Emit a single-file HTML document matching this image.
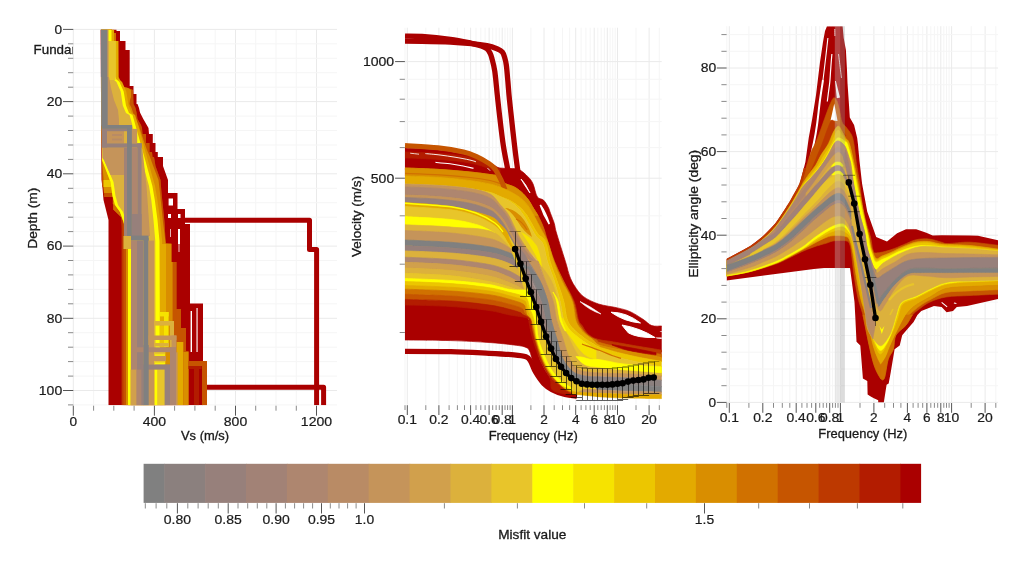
<!DOCTYPE html><html><head><meta charset="utf-8"><style>html,body{margin:0;padding:0;background:#fff}svg{display:block;will-change:transform}text{font-family:"Liberation Sans",sans-serif;fill:#1a1a1a}.t{stroke:#1a1a1a;stroke-width:0.3px}.k{stroke:#1a1a1a;stroke-width:0.2px}</style></head><body>
<svg width="1024" height="568" viewBox="0 0 1024 568">
<rect width="1024" height="568" fill="#fff"/>
<line x1="73.3" y1="29.4" x2="73.3" y2="405.2" stroke="#eaeaea" stroke-width="1"/>
<line x1="93.6" y1="29.4" x2="93.6" y2="405.2" stroke="#f5f5f5" stroke-width="1"/>
<line x1="113.8" y1="29.4" x2="113.8" y2="405.2" stroke="#f5f5f5" stroke-width="1"/>
<line x1="134.1" y1="29.4" x2="134.1" y2="405.2" stroke="#f5f5f5" stroke-width="1"/>
<line x1="154.4" y1="29.4" x2="154.4" y2="405.2" stroke="#eaeaea" stroke-width="1"/>
<line x1="174.6" y1="29.4" x2="174.6" y2="405.2" stroke="#f5f5f5" stroke-width="1"/>
<line x1="194.9" y1="29.4" x2="194.9" y2="405.2" stroke="#f5f5f5" stroke-width="1"/>
<line x1="215.2" y1="29.4" x2="215.2" y2="405.2" stroke="#f5f5f5" stroke-width="1"/>
<line x1="235.5" y1="29.4" x2="235.5" y2="405.2" stroke="#eaeaea" stroke-width="1"/>
<line x1="255.7" y1="29.4" x2="255.7" y2="405.2" stroke="#f5f5f5" stroke-width="1"/>
<line x1="276" y1="29.4" x2="276" y2="405.2" stroke="#f5f5f5" stroke-width="1"/>
<line x1="296.3" y1="29.4" x2="296.3" y2="405.2" stroke="#f5f5f5" stroke-width="1"/>
<line x1="316.5" y1="29.4" x2="316.5" y2="405.2" stroke="#eaeaea" stroke-width="1"/>
<line x1="73.3" y1="29.4" x2="337" y2="29.4" stroke="#eaeaea" stroke-width="1"/>
<line x1="73.3" y1="43.8" x2="337" y2="43.8" stroke="#f5f5f5" stroke-width="1"/>
<line x1="73.3" y1="58.3" x2="337" y2="58.3" stroke="#f5f5f5" stroke-width="1"/>
<line x1="73.3" y1="72.7" x2="337" y2="72.7" stroke="#f5f5f5" stroke-width="1"/>
<line x1="73.3" y1="87.2" x2="337" y2="87.2" stroke="#f5f5f5" stroke-width="1"/>
<line x1="73.3" y1="101.6" x2="337" y2="101.6" stroke="#eaeaea" stroke-width="1"/>
<line x1="73.3" y1="116.1" x2="337" y2="116.1" stroke="#f5f5f5" stroke-width="1"/>
<line x1="73.3" y1="130.5" x2="337" y2="130.5" stroke="#f5f5f5" stroke-width="1"/>
<line x1="73.3" y1="145" x2="337" y2="145" stroke="#f5f5f5" stroke-width="1"/>
<line x1="73.3" y1="159.4" x2="337" y2="159.4" stroke="#f5f5f5" stroke-width="1"/>
<line x1="73.3" y1="173.8" x2="337" y2="173.8" stroke="#eaeaea" stroke-width="1"/>
<line x1="73.3" y1="188.3" x2="337" y2="188.3" stroke="#f5f5f5" stroke-width="1"/>
<line x1="73.3" y1="202.7" x2="337" y2="202.7" stroke="#f5f5f5" stroke-width="1"/>
<line x1="73.3" y1="217.2" x2="337" y2="217.2" stroke="#f5f5f5" stroke-width="1"/>
<line x1="73.3" y1="231.6" x2="337" y2="231.6" stroke="#f5f5f5" stroke-width="1"/>
<line x1="73.3" y1="246.1" x2="337" y2="246.1" stroke="#eaeaea" stroke-width="1"/>
<line x1="73.3" y1="260.5" x2="337" y2="260.5" stroke="#f5f5f5" stroke-width="1"/>
<line x1="73.3" y1="274.9" x2="337" y2="274.9" stroke="#f5f5f5" stroke-width="1"/>
<line x1="73.3" y1="289.4" x2="337" y2="289.4" stroke="#f5f5f5" stroke-width="1"/>
<line x1="73.3" y1="303.8" x2="337" y2="303.8" stroke="#f5f5f5" stroke-width="1"/>
<line x1="73.3" y1="318.3" x2="337" y2="318.3" stroke="#eaeaea" stroke-width="1"/>
<line x1="73.3" y1="332.7" x2="337" y2="332.7" stroke="#f5f5f5" stroke-width="1"/>
<line x1="73.3" y1="347.2" x2="337" y2="347.2" stroke="#f5f5f5" stroke-width="1"/>
<line x1="73.3" y1="361.6" x2="337" y2="361.6" stroke="#f5f5f5" stroke-width="1"/>
<line x1="73.3" y1="376.1" x2="337" y2="376.1" stroke="#f5f5f5" stroke-width="1"/>
<line x1="73.3" y1="390.5" x2="337" y2="390.5" stroke="#eaeaea" stroke-width="1"/>
<line x1="73.3" y1="404.9" x2="337" y2="404.9" stroke="#f5f5f5" stroke-width="1"/>
<clipPath id="c1"><rect x="73.3" y="29.4" width="263.7" height="375.9"/></clipPath><g clip-path="url(#c1)">
<polyline points="178,220.3 309.5,220.3 309.5,249.4 316.6,249.4 316.6,405.3" fill="none" stroke="#aa0000" stroke-width="5" stroke-linejoin="round" />
<polyline points="205,387.3 323.6,387.3 323.6,405.3" fill="none" stroke="#aa0000" stroke-width="5" stroke-linejoin="round" />
<polygon points="100.6,29.4 101.5,180 102.5,188 103.5,200 108.5,220 108.5,405.3 203,405.3 203,303.5 190,303.5 190,224 185,224 185,209 177.5,209 177.5,193 168,193 168,180 163,166 163,157 157.8,157 157.8,152 155.5,152 155.5,143 152.8,143 152.8,134 149,134 148.5,128 143.3,119 140,112.5 139,108 137.5,104 136.5,104 136.5,94 133.5,94 133.5,86 129.7,86 129.7,50 125.5,50 125.5,41 120,41 120,31 116.5,31 116.5,29.4" fill="#aa0000" />
<rect x="168.6" y="198.5" width="4.4" height="7" fill="#fff"/>
<rect x="168" y="214" width="3" height="4" fill="#fff"/>
<rect x="178" y="214" width="2.5" height="4" fill="#fff"/>
<rect x="170.2" y="229" width="0.7" height="8" fill="#fff"/>
<rect x="178" y="229" width="2" height="15" fill="#fff"/>
<rect x="178.6" y="244" width="0.8" height="8" fill="#fff"/>
<rect x="190.6" y="311" width="1.4" height="41" fill="#fff"/>
<rect x="196.5" y="308" width="1.1" height="44" fill="#fff"/>
<polygon points="101,29.4 102,185 103,188 104,197 113.3,197 113.3,209.5 121,217 121.6,228.5 121.6,405.3 188.5,405.3 188.5,351 186,351 186,328 181,328 181,309 176.5,309 176.5,262 171.4,262 171.4,243.6 165.7,243.6 164.5,222 161.5,193 160.5,180 155.5,166 154,157 152.5,157 152,152 149.5,152 149.5,143 146,143 146,134 142.5,134 142,128 141,125 137.5,119 136.5,112.5 135.5,108 133.5,104 133,90 128,88 123.3,87 118.5,77 118.3,41 116,41 116,33 112,33 112,29.4" fill="#bd3900" />
<polygon points="101.1,29.4 102.2,185 103.2,188 104.2,193 104.2,197 113.3,197 113.3,204.5 113.3,209.5 121,217 123,222 123.5,230 123.5,405.3 188.5,405.3 188.5,351 186,351 186,328 181,328 181,309 176.5,309 176.5,262 171.4,262 171.4,243.6 165.7,243.6 164.5,222 161.5,193 160.5,180 155.5,166 154,157 152.5,157 152,152 149.5,152 149.5,143 146,143 146,134 142.5,134 142,128 141,125 137.5,119 136.5,112.5 135.5,108 133.5,104 133,90 128,88 123.3,87 118.5,77 118.3,41 116,41 116,33 112,33 112,29.4" fill="#c65500" />
<polygon points="101.2,29.4 102,160 103.5,178 104,188 104,193 112.8,193 112.8,204 115,206 119,211 122.5,217.6 125,228 126,240 126,405.3 172.6,405.3 172.6,262 171.4,262 171.4,244 165.7,243.6 163,222 160,193 158.5,180 153.2,166 150,157 147,150 143.5,140 140.5,131 138.5,125 135.5,119 133,112.5 131.5,108 129.5,104 130,100 131,97 131,90 128,88 123.3,87 118.5,77 118.3,41 111.8,41 111.8,29.4" fill="#d98e00" />
<rect x="103.5" y="180" width="9.3" height="7" fill="#ecc600"/>
<polygon points="113.3,204.5 115.5,205.5 118.5,210 121.3,217 113.3,209.5" fill="#d07100" />
<rect x="112" y="33" width="4" height="8" fill="#d07100"/>
<polygon points="101.3,29.4 102,160 110.5,182 112.5,196 115,205 120,212 123.5,222 126.8,235 128,249 128,405.3 162.8,405.3 162.1,241 160.1,220 157.4,200 155,186 147.8,160 139.8,131.5 136.6,120 135.1,115 131.6,113 128.6,105.4 126.3,91.5 122.1,82 118.6,79 118.1,77 118.1,41 114.1,41 114.1,29.4" fill="#e3aa00" />
<polygon points="101.3,29.4 102,160 110.5,182 112.5,196 115,205 120,212 123.5,222 126.8,235 128,249 128,405.3 160.2,405.3 159.5,241 157.5,220 154.8,200 152.4,186 145.2,160 137.2,131.5 134,120 132.5,115 129,113 126,105.4 123.7,91.5 119.5,82 116,79 115.5,77 115.5,41 111.5,41 111.5,29.4" fill="#ffff00" />
<polygon points="101.5,29.4 102.5,158 104,160 113.5,182 115.5,196 118,205 123,212 126.5,222 129.8,235 131,249 130.6,405.3 155.6,405.3 155.3,241 153.5,220 151.3,200 149,186 141.8,160 134,131.5 131,120 129.5,115 126,113 122.8,105.4 120.7,91.5 116.5,82 113,79 115.5,77 115.5,41 107.5,41 107.5,29.4" fill="#dcb13c" />
<rect x="108.5" y="41" width="7" height="39" fill="#e8c52a"/>
<polygon points="100.9,29.4 101.3,77 101.4,125 119,125 119,120 118,110 114,100 111,88 109,77 108.5,77 108.5,29.4" fill="#c5945a" />
<rect x="100.9" y="29.4" width="6.4" height="47.6" fill="#808080"/>
<rect x="101.3" y="77" width="6.4" height="49" fill="#808080"/>
<polygon points="102.3,147.5 102.6,158 104,160 110.5,175 124,175 124,147.5 124,147.5" fill="#c5945a" />
<rect x="107" y="131" width="17" height="12.3" fill="#c5945a"/>
<rect x="112" y="134" width="10" height="2" fill="#b98b65"/>
<rect x="112" y="138.5" width="10" height="2" fill="#b98b65"/>
<rect x="101.5" y="125" width="30.5" height="3.9" fill="#808080"/>
<rect x="101.8" y="128.9" width="25.2" height="2.3" fill="#97807b"/>
<rect x="101.8" y="128.9" width="5.2" height="18.6" fill="#97807b"/>
<rect x="101.8" y="143.3" width="39.9" height="4.3" fill="#97807b"/>
<rect x="137.2" y="143.3" width="4.6" height="92.7" fill="#97807b"/>
<rect x="131.9" y="128.9" width="5.3" height="14.4" fill="#c5945a"/>
<rect x="131.9" y="147.6" width="5.3" height="88.4" fill="#ae866f"/>
<rect x="124" y="147.5" width="3" height="88.5" fill="#a28276"/>
<rect x="127" y="125" width="4.9" height="113" fill="#808080"/>
<rect x="131.9" y="214" width="14.1" height="22" fill="#97807b"/>
<polygon points="141.8,147.6 141.8,236 150,236 147.5,200 146.5,186 142.5,150 141.8,147.6" fill="#c5945a" />
<rect x="127" y="235.6" width="21.6" height="5" fill="#808080"/>
<rect x="131" y="240.6" width="6" height="164.7" fill="#ae866f"/>
<rect x="137" y="240.6" width="6.6" height="164.7" fill="#97807b"/>
<rect x="143.6" y="238" width="5" height="167.3" fill="#808080"/>
<rect x="148.6" y="240.6" width="5.4" height="164.7" fill="#c5945a"/>
<rect x="123.5" y="236" width="7.5" height="13" fill="#dcb13c"/>
<rect x="160" y="244" width="6" height="161.3" fill="#e3aa00"/>
<rect x="176.2" y="309" width="4.8" height="19" fill="#c65500"/>
<rect x="178" y="328" width="8" height="24" fill="#c65500"/>
<rect x="176.5" y="342" width="6.8" height="63.3" fill="#e3aa00"/>
<rect x="183.3" y="352" width="5.2" height="53.3" fill="#d98e00"/>
<rect x="160" y="312" width="8.6" height="4.4" fill="#f6e300"/>
<rect x="164" y="312" width="4.6" height="35" fill="#f6e300"/>
<rect x="159.6" y="325.5" width="4.4" height="21.5" fill="#ecc600"/>
<rect x="154" y="321" width="20" height="4.6" fill="#dcb13c"/>
<rect x="170" y="321" width="4" height="26" fill="#dcb13c"/>
<rect x="148.6" y="335.5" width="27.8" height="4.5" fill="#c5945a"/>
<rect x="171.6" y="335.5" width="4.9" height="16.5" fill="#c5945a"/>
<rect x="154" y="343" width="15" height="3.5" fill="#dcb13c"/>
<rect x="154" y="352" width="11" height="53.3" fill="#e8c52a"/>
<rect x="155" y="369.5" width="2.2" height="35.8" fill="#ffff00"/>
<rect x="155" y="354.5" width="10" height="1.1" fill="#ffff00"/>
<rect x="155" y="362.6" width="10" height="1.2" fill="#ffff00"/>
<rect x="148.6" y="356" width="17.4" height="5" fill="#c5945a"/>
<rect x="132" y="347.3" width="44" height="4.9" fill="#ae866f"/>
<rect x="170" y="347.3" width="6" height="58" fill="#ae866f"/>
<rect x="176" y="352.2" width="1.6" height="53.1" fill="#c5945a"/>
<rect x="137" y="364.6" width="33" height="5" fill="#97807b"/>
<rect x="164.6" y="364.6" width="5.4" height="40.7" fill="#97807b"/>
<rect x="130.6" y="369.6" width="6" height="35.7" fill="#d1a04c"/>
<rect x="136.6" y="369.6" width="5" height="35.7" fill="#ae866f"/>
<rect x="141.6" y="369.6" width="2" height="35.7" fill="#97807b"/>
<rect x="143.6" y="345" width="5" height="60.3" fill="#808080"/>
<rect x="188.5" y="361" width="18.5" height="5" fill="#c65500"/>
<rect x="202" y="361" width="5" height="44.3" fill="#c65500"/>
<rect x="188.5" y="366" width="13" height="3" fill="#b31c00"/>
<rect x="194" y="366" width="5" height="39.3" fill="#b31c00"/>
</g>
<line x1="63" y1="29.4" x2="73.3" y2="29.4" stroke="#555555" stroke-width="1"/>
<text x="62.2" y="33.7" font-size="12" text-anchor="end" textLength="7.6" lengthAdjust="spacingAndGlyphs" class="k">0</text>
<line x1="68" y1="43.8" x2="73.3" y2="43.8" stroke="#8a8a8a" stroke-width="1"/>
<line x1="68" y1="58.3" x2="73.3" y2="58.3" stroke="#8a8a8a" stroke-width="1"/>
<line x1="68" y1="72.7" x2="73.3" y2="72.7" stroke="#8a8a8a" stroke-width="1"/>
<line x1="68" y1="87.2" x2="73.3" y2="87.2" stroke="#8a8a8a" stroke-width="1"/>
<line x1="63" y1="101.6" x2="73.3" y2="101.6" stroke="#555555" stroke-width="1"/>
<text x="62.2" y="105.9" font-size="12" text-anchor="end" textLength="15.5" lengthAdjust="spacingAndGlyphs" class="k">20</text>
<line x1="68" y1="116.1" x2="73.3" y2="116.1" stroke="#8a8a8a" stroke-width="1"/>
<line x1="68" y1="130.5" x2="73.3" y2="130.5" stroke="#8a8a8a" stroke-width="1"/>
<line x1="68" y1="145" x2="73.3" y2="145" stroke="#8a8a8a" stroke-width="1"/>
<line x1="68" y1="159.4" x2="73.3" y2="159.4" stroke="#8a8a8a" stroke-width="1"/>
<line x1="63" y1="173.8" x2="73.3" y2="173.8" stroke="#555555" stroke-width="1"/>
<text x="62.2" y="178.1" font-size="12" text-anchor="end" textLength="15.5" lengthAdjust="spacingAndGlyphs" class="k">40</text>
<line x1="68" y1="188.3" x2="73.3" y2="188.3" stroke="#8a8a8a" stroke-width="1"/>
<line x1="68" y1="202.7" x2="73.3" y2="202.7" stroke="#8a8a8a" stroke-width="1"/>
<line x1="68" y1="217.2" x2="73.3" y2="217.2" stroke="#8a8a8a" stroke-width="1"/>
<line x1="68" y1="231.6" x2="73.3" y2="231.6" stroke="#8a8a8a" stroke-width="1"/>
<line x1="63" y1="246.1" x2="73.3" y2="246.1" stroke="#555555" stroke-width="1"/>
<text x="62.2" y="250.4" font-size="12" text-anchor="end" textLength="15.5" lengthAdjust="spacingAndGlyphs" class="k">60</text>
<line x1="68" y1="260.5" x2="73.3" y2="260.5" stroke="#8a8a8a" stroke-width="1"/>
<line x1="68" y1="274.9" x2="73.3" y2="274.9" stroke="#8a8a8a" stroke-width="1"/>
<line x1="68" y1="289.4" x2="73.3" y2="289.4" stroke="#8a8a8a" stroke-width="1"/>
<line x1="68" y1="303.8" x2="73.3" y2="303.8" stroke="#8a8a8a" stroke-width="1"/>
<line x1="63" y1="318.3" x2="73.3" y2="318.3" stroke="#555555" stroke-width="1"/>
<text x="62.2" y="322.6" font-size="12" text-anchor="end" textLength="15.5" lengthAdjust="spacingAndGlyphs" class="k">80</text>
<line x1="68" y1="332.7" x2="73.3" y2="332.7" stroke="#8a8a8a" stroke-width="1"/>
<line x1="68" y1="347.2" x2="73.3" y2="347.2" stroke="#8a8a8a" stroke-width="1"/>
<line x1="68" y1="361.6" x2="73.3" y2="361.6" stroke="#8a8a8a" stroke-width="1"/>
<line x1="68" y1="376.1" x2="73.3" y2="376.1" stroke="#8a8a8a" stroke-width="1"/>
<line x1="63" y1="390.5" x2="73.3" y2="390.5" stroke="#555555" stroke-width="1"/>
<text x="62.2" y="394.8" font-size="12" text-anchor="end" textLength="23.4" lengthAdjust="spacingAndGlyphs" class="k">100</text>
<line x1="68" y1="404.9" x2="73.3" y2="404.9" stroke="#8a8a8a" stroke-width="1"/>
<line x1="73.3" y1="405.7" x2="73.3" y2="415.7" stroke="#555555" stroke-width="1"/>
<text x="73.3" y="425.8" font-size="12" text-anchor="middle" textLength="7.6" lengthAdjust="spacingAndGlyphs" class="k">0</text>
<line x1="93.6" y1="405.7" x2="93.6" y2="410.7" stroke="#8a8a8a" stroke-width="1"/>
<line x1="113.8" y1="405.7" x2="113.8" y2="410.7" stroke="#8a8a8a" stroke-width="1"/>
<line x1="134.1" y1="405.7" x2="134.1" y2="410.7" stroke="#8a8a8a" stroke-width="1"/>
<line x1="154.4" y1="405.7" x2="154.4" y2="415.7" stroke="#555555" stroke-width="1"/>
<text x="154.4" y="425.8" font-size="12" text-anchor="middle" textLength="23.4" lengthAdjust="spacingAndGlyphs" class="k">400</text>
<line x1="174.6" y1="405.7" x2="174.6" y2="410.7" stroke="#8a8a8a" stroke-width="1"/>
<line x1="194.9" y1="405.7" x2="194.9" y2="410.7" stroke="#8a8a8a" stroke-width="1"/>
<line x1="215.2" y1="405.7" x2="215.2" y2="410.7" stroke="#8a8a8a" stroke-width="1"/>
<line x1="235.5" y1="405.7" x2="235.5" y2="415.7" stroke="#555555" stroke-width="1"/>
<text x="235.5" y="425.8" font-size="12" text-anchor="middle" textLength="23.4" lengthAdjust="spacingAndGlyphs" class="k">800</text>
<line x1="255.7" y1="405.7" x2="255.7" y2="410.7" stroke="#8a8a8a" stroke-width="1"/>
<line x1="276" y1="405.7" x2="276" y2="410.7" stroke="#8a8a8a" stroke-width="1"/>
<line x1="296.3" y1="405.7" x2="296.3" y2="410.7" stroke="#8a8a8a" stroke-width="1"/>
<line x1="316.5" y1="405.7" x2="316.5" y2="415.7" stroke="#555555" stroke-width="1"/>
<text x="316.5" y="425.8" font-size="12" text-anchor="middle" textLength="31.3" lengthAdjust="spacingAndGlyphs" class="k">1200</text>
<text x="205" y="440.3" font-size="12.2" text-anchor="middle" textLength="48" lengthAdjust="spacingAndGlyphs" class="t">Vs (m/s)</text>
<g transform="translate(37.4,218.2) rotate(-90)"><text x="0" y="0" font-size="12.2" text-anchor="middle" textLength="61" lengthAdjust="spacingAndGlyphs" class="t">Depth (m)</text></g>
<clipPath id="cf"><rect x="0" y="40" width="72.8" height="20"/></clipPath>
<g clip-path="url(#cf)"><text x="33.6" y="54.2" font-size="12.2" text-anchor="start" textLength="78" lengthAdjust="spacingAndGlyphs" class="t">Fundamental</text></g>
<line x1="405" y1="27.7" x2="405" y2="404.7" stroke="#f5f5f5" stroke-width="1"/>
<line x1="407.3" y1="27.7" x2="407.3" y2="404.7" stroke="#eaeaea" stroke-width="1"/>
<line x1="425.8" y1="27.7" x2="425.8" y2="404.7" stroke="#f5f5f5" stroke-width="1"/>
<line x1="438.9" y1="27.7" x2="438.9" y2="404.7" stroke="#eaeaea" stroke-width="1"/>
<line x1="449.1" y1="27.7" x2="449.1" y2="404.7" stroke="#f5f5f5" stroke-width="1"/>
<line x1="457.4" y1="27.7" x2="457.4" y2="404.7" stroke="#f5f5f5" stroke-width="1"/>
<line x1="464.5" y1="27.7" x2="464.5" y2="404.7" stroke="#f5f5f5" stroke-width="1"/>
<line x1="470.6" y1="27.7" x2="470.6" y2="404.7" stroke="#eaeaea" stroke-width="1"/>
<line x1="476" y1="27.7" x2="476" y2="404.7" stroke="#f5f5f5" stroke-width="1"/>
<line x1="480.8" y1="27.7" x2="480.8" y2="404.7" stroke="#f5f5f5" stroke-width="1"/>
<line x1="485.1" y1="27.7" x2="485.1" y2="404.7" stroke="#f5f5f5" stroke-width="1"/>
<line x1="489.1" y1="27.7" x2="489.1" y2="404.7" stroke="#eaeaea" stroke-width="1"/>
<line x1="492.7" y1="27.7" x2="492.7" y2="404.7" stroke="#f5f5f5" stroke-width="1"/>
<line x1="496.1" y1="27.7" x2="496.1" y2="404.7" stroke="#f5f5f5" stroke-width="1"/>
<line x1="499.3" y1="27.7" x2="499.3" y2="404.7" stroke="#f5f5f5" stroke-width="1"/>
<line x1="502.2" y1="27.7" x2="502.2" y2="404.7" stroke="#eaeaea" stroke-width="1"/>
<line x1="505" y1="27.7" x2="505" y2="404.7" stroke="#f5f5f5" stroke-width="1"/>
<line x1="507.6" y1="27.7" x2="507.6" y2="404.7" stroke="#f5f5f5" stroke-width="1"/>
<line x1="510.1" y1="27.7" x2="510.1" y2="404.7" stroke="#f5f5f5" stroke-width="1"/>
<line x1="512.4" y1="27.7" x2="512.4" y2="404.7" stroke="#eaeaea" stroke-width="1"/>
<line x1="530.9" y1="27.7" x2="530.9" y2="404.7" stroke="#f5f5f5" stroke-width="1"/>
<line x1="544" y1="27.7" x2="544" y2="404.7" stroke="#eaeaea" stroke-width="1"/>
<line x1="554.2" y1="27.7" x2="554.2" y2="404.7" stroke="#f5f5f5" stroke-width="1"/>
<line x1="562.5" y1="27.7" x2="562.5" y2="404.7" stroke="#f5f5f5" stroke-width="1"/>
<line x1="569.6" y1="27.7" x2="569.6" y2="404.7" stroke="#f5f5f5" stroke-width="1"/>
<line x1="575.7" y1="27.7" x2="575.7" y2="404.7" stroke="#eaeaea" stroke-width="1"/>
<line x1="581.1" y1="27.7" x2="581.1" y2="404.7" stroke="#f5f5f5" stroke-width="1"/>
<line x1="585.9" y1="27.7" x2="585.9" y2="404.7" stroke="#f5f5f5" stroke-width="1"/>
<line x1="590.2" y1="27.7" x2="590.2" y2="404.7" stroke="#f5f5f5" stroke-width="1"/>
<line x1="594.2" y1="27.7" x2="594.2" y2="404.7" stroke="#eaeaea" stroke-width="1"/>
<line x1="597.8" y1="27.7" x2="597.8" y2="404.7" stroke="#f5f5f5" stroke-width="1"/>
<line x1="601.2" y1="27.7" x2="601.2" y2="404.7" stroke="#f5f5f5" stroke-width="1"/>
<line x1="604.4" y1="27.7" x2="604.4" y2="404.7" stroke="#f5f5f5" stroke-width="1"/>
<line x1="607.3" y1="27.7" x2="607.3" y2="404.7" stroke="#eaeaea" stroke-width="1"/>
<line x1="610.1" y1="27.7" x2="610.1" y2="404.7" stroke="#f5f5f5" stroke-width="1"/>
<line x1="612.7" y1="27.7" x2="612.7" y2="404.7" stroke="#f5f5f5" stroke-width="1"/>
<line x1="615.2" y1="27.7" x2="615.2" y2="404.7" stroke="#f5f5f5" stroke-width="1"/>
<line x1="617.5" y1="27.7" x2="617.5" y2="404.7" stroke="#eaeaea" stroke-width="1"/>
<line x1="636" y1="27.7" x2="636" y2="404.7" stroke="#f5f5f5" stroke-width="1"/>
<line x1="649.1" y1="27.7" x2="649.1" y2="404.7" stroke="#eaeaea" stroke-width="1"/>
<line x1="659.3" y1="27.7" x2="659.3" y2="404.7" stroke="#f5f5f5" stroke-width="1"/>
<line x1="404.9" y1="332.5" x2="661.7" y2="332.5" stroke="#f5f5f5" stroke-width="1"/>
<line x1="404.9" y1="264.2" x2="661.7" y2="264.2" stroke="#f5f5f5" stroke-width="1"/>
<line x1="404.9" y1="215.8" x2="661.7" y2="215.8" stroke="#f5f5f5" stroke-width="1"/>
<line x1="404.9" y1="178.2" x2="661.7" y2="178.2" stroke="#eaeaea" stroke-width="1"/>
<line x1="404.9" y1="147.6" x2="661.7" y2="147.6" stroke="#f5f5f5" stroke-width="1"/>
<line x1="404.9" y1="121.6" x2="661.7" y2="121.6" stroke="#f5f5f5" stroke-width="1"/>
<line x1="404.9" y1="99.2" x2="661.7" y2="99.2" stroke="#f5f5f5" stroke-width="1"/>
<line x1="404.9" y1="79.3" x2="661.7" y2="79.3" stroke="#f5f5f5" stroke-width="1"/>
<line x1="404.9" y1="61.6" x2="661.7" y2="61.6" stroke="#eaeaea" stroke-width="1"/>
<clipPath id="c2"><rect x="404.9" y="29.4" width="256.8" height="375.3"/></clipPath><g clip-path="url(#c2)">
<path d="M405,36.1C407.8,36.2 414.4,36 422,36.5C429.6,37 442.1,38.2 450.4,39.3C458.6,40.4 466.3,42.2 471.5,43.3C476.7,44.4 478.8,45.1 481.4,46C484,46.9 485.6,47.6 487,48.8C488.4,50 489.2,51.5 490,53C490.8,54.5 491,55 491.8,58C492.6,61 493.9,65.1 494.8,71.3C495.7,77.5 496.5,87.7 497.3,95C498.1,102.3 498.5,106.5 499.5,115C500.5,123.5 502,137.1 503.4,146C504.8,154.9 506.5,162.7 507.6,168.7C508.7,174.7 509.6,179.8 510,182" fill="none" stroke="#aa0000" stroke-width="5.3" stroke-linecap="butt" stroke-linejoin="round" />
<path d="M405,41.1C407.8,41.1 414.4,41.1 422,41.3C429.6,41.4 442.1,41.6 450.4,42C458.6,42.4 465.4,43 471.5,43.6C477.6,44.2 482.8,44.9 487,45.7C491.2,46.6 494.4,47.7 497,48.7C499.6,49.8 501,50.5 502.3,52C503.6,53.5 504.1,55.8 504.8,58C505.5,60.2 505.8,61.6 506.3,65C506.8,68.4 507.2,73.4 507.6,78.4C508.1,83.4 508.5,89.4 509,95C509.5,100.6 509.9,103.5 510.8,112C511.7,120.5 513.5,136.6 514.6,146C515.7,155.4 516.7,162.7 517.5,168.7C518.3,174.7 519.2,179.8 519.5,182" fill="none" stroke="#aa0000" stroke-width="5.3" stroke-linecap="butt" stroke-linejoin="round" />
<path d="M405,148C410.5,148.3 428.2,149 438,150C447.8,151 457.2,152.7 463.5,154C469.8,155.3 471.8,156.2 476,158C480.2,159.8 485,163.3 489,165C493,166.7 496.5,167.4 500,168C503.5,168.6 506.8,168.2 510,168.5C513.2,168.8 516,168.1 519,169.5C522,170.9 525.9,174.6 528.2,177C530.6,179.4 531.6,180.8 533.1,184.1C534.6,187.4 535.5,194.1 537.3,196.8C539.1,199.5 541.8,198.4 543.7,200.3C545.6,202.2 547.5,205.8 548.6,208C549.7,210.2 549.5,210.7 550.5,213.3C551.5,215.9 553.3,220.4 554.3,223.5C555.2,226.6 554.9,227.5 556.2,232C557.5,236.5 560.2,245 561.9,250.4C563.6,255.8 565,260.2 566.3,264.4C567.6,268.6 568.1,272.2 569.5,275.8C570.9,279.4 572.3,282.6 574.6,286C576.9,289.4 579.2,293.4 583.2,296.4C587.2,299.4 592.8,302.1 598.5,304C604.2,305.9 612.2,306.6 617.5,307.9C622.8,309.2 626,309.8 630.2,311.7C634.5,313.6 639.4,317 643,319.3C646.6,321.6 648.6,324.5 651.8,325.6C654.9,326.7 660.2,325.9 661.9,326L661.9,352C657.7,351.3 645,349.5 636.5,348C628,346.5 619.6,344.7 611,343C602.4,341.3 591,342.7 585,338C579,333.3 579.2,324.7 575,315C570.8,305.3 565,292.5 560,280C555,267.5 550,250.8 545,240C540,229.2 537.5,223.3 530,215C522.5,206.7 520.8,197.5 500,190C479.2,182.5 420.8,173.3 405,170Z" fill="#aa0000" stroke="#aa0000" stroke-width="0.7" />
<path d="M521,179 Q526,184 530,193 Q525,186 521,179Z" fill="#fff" stroke="#fff" stroke-width="0.8"/>
<path d="M540.3,205 Q546,213 549.3,224 Q543.5,215 540.3,205Z" fill="#fff" stroke="#fff" stroke-width="1.6"/>
<path d="M580,301.5 Q590,306 601,314 Q589,310 580,301.5Z" fill="#fff" stroke="#fff" stroke-width="0.6"/>
<path d="M611,312.2 Q626,312 640.5,323 Q624,321.5 611,312.2Z" fill="#fff" stroke="#fff" stroke-width="1"/>
<path d="M622,325 Q640,328 655,337.5 Q638,338 628.5,333 Q625,329 622,325Z" fill="#fff" stroke="#fff" stroke-width="1"/>
<path d="M655,337.5 L662,337.6 L662,339 L657,338.6Z" fill="#fff"/>
<path d="M659.5,331.2 L662,331 L662,332.2Z" fill="#fff"/>
<path d="M405,300C415.8,300.3 454.2,301.2 470,302C485.8,302.8 491.7,303.8 500,305C508.3,306.2 515.5,307.8 520,309C524.5,310.2 525.2,309.8 527,312C528.8,314.2 529.7,317.3 531,322C532.3,326.7 533.5,333.7 535,340C536.5,346.3 537.2,353.3 540,360C542.8,366.7 547.8,375.2 552,380C556.2,384.8 561,386.8 565,389C569,391.2 574.2,392.3 576,393L576,395.8C574,395.4 568,394.7 564,393.3C560,391.9 555.4,389.6 552,387.6C548.6,385.6 546.4,384.4 543.6,381.2C540.8,378 537.5,373.5 535.2,368.6C532.9,363.7 531.5,355.5 530,352C528.5,348.5 528.7,348.6 526,347.4C523.3,346.2 520.2,345.8 514,345C507.8,344.2 499.5,343.2 489,342.5C478.5,341.8 464.8,341 450.8,340.6C436.8,340.2 412.6,340.1 405,340Z" fill="#aa0000" stroke="#aa0000" stroke-width="0.7" />
<path d="M405,351.4C412.6,351.4 436.8,351.4 450.8,351.7C464.8,352 478.5,352.8 489,353.3C499.5,353.8 507.8,354.2 514,354.8C520.2,355.4 523.2,355.8 526,356.8C528.8,357.8 528.9,358.5 530.5,361C532.1,363.5 533.3,368.3 535.5,372C537.7,375.7 540.9,380.5 543.6,383.4C546.4,386.3 548.4,387.7 552,389.6C555.6,391.5 560.8,393.5 565,394.6C569.2,395.7 575,396 577,396.3" fill="none" stroke="#aa0000" stroke-width="5.2" stroke-linecap="butt" stroke-linejoin="round" />
<path d="M405,152C410.8,152.2 429.2,152.7 440,153.5C450.8,154.3 461.7,155.4 470,157C478.3,158.6 485,161 490,163C495,165 498.3,168 500,169L500,175C498.3,174 495,171 490,169C485,167 478.3,164.6 470,163C461.7,161.4 450.8,160.3 440,159.5C429.2,158.7 410.8,158.2 405,158Z" fill="#b31c00" stroke="#b31c00" stroke-width="0.7" />
<path d="M405,168C410.8,168.2 429.2,168.8 440,169.5C450.8,170.2 461.7,171.2 470,172C478.3,172.8 485,173.8 490,174.5C495,175.2 497.8,175.1 500,176.5C502.2,177.9 501.2,181 503.5,182.7C505.8,184.4 511.1,185.4 514,186.9C516.9,188.4 518.7,189.7 521.1,191.8C523.5,193.9 526.3,197.1 528.2,199.6C530.1,202.1 530.8,203.9 532.4,206.6C534,209.3 536.1,212 538,215.6C539.9,219.2 542.2,224.1 543.7,228.2C545.2,232.3 545.5,234.5 547.3,240C549.1,245.5 551.7,254.4 554.3,261.1C556.9,267.8 559.7,273.4 563,280C566.3,286.6 571.4,294.3 574,301C576.6,307.7 577.1,315.9 578.5,320C579.9,324.1 580.8,323.5 582.1,325.5C583.4,327.5 584.6,330.2 586.3,332.1C587.9,334 589.7,335.7 592,337C594.3,338.3 596.8,339.1 600,339.8C603.2,340.6 604.9,340.5 611,341.5C617.1,342.5 628,344.6 636.5,346C645,347.4 657.7,349.5 661.9,350.2L661.9,357.7C658.2,357.1 647,355.3 640,354C633,352.7 626.7,351.4 620,350C613.3,348.6 604.5,347.3 600,345.5C595.5,343.7 595,341.1 592.7,339.3C590.4,337.5 588.1,336.4 586,334.5C583.9,332.6 581.7,330.4 580,328C578.3,325.6 576.9,324.5 575.6,320C574.3,315.5 574.5,307.7 572.1,301C569.8,294.3 564.6,286.7 561.5,280C558.4,273.3 556,267.5 553.6,261C551.2,254.5 549.4,246.3 547.3,241C545.2,235.7 543.2,233.2 541,229C538.8,224.8 536.2,219.6 534,215.6C531.8,211.6 529.8,208 527.5,205C525.2,202 522.9,199.8 520,197.5C517.1,195.2 513.3,193.2 510,191.5C506.7,189.8 503.3,188.2 500,187C496.7,185.8 495,185.1 490,184C485,182.9 478.3,181.6 470,180.5C461.7,179.4 450.8,178.2 440,177.5C429.2,176.8 410.8,176.2 405,176Z" fill="#bd3900" stroke="#bd3900" stroke-width="0.7" />
<path d="M405,168C410.8,168.2 429.2,168.8 440,169.5C450.8,170.2 461.7,171.2 470,172C478.3,172.8 485,173.8 490,174.5C495,175.2 497.8,175.1 500,176.5C502.2,177.9 501.2,181 503.5,182.7C505.8,184.4 511.1,185.4 514,186.9C516.9,188.4 518.7,189.7 521.1,191.8C523.5,193.9 526.3,197.1 528.2,199.6C530.1,202.1 530.8,203.9 532.4,206.6C534,209.3 536.1,212 538,215.6C539.9,219.2 542.2,224.1 543.7,228.2C545.2,232.3 545.5,234.5 547.3,240C549.1,245.5 551.7,254.4 554.3,261.1C556.9,267.8 559.9,273.4 563,280C566.1,286.6 570.6,294.3 573,301C575.4,307.7 576.2,315.7 577.5,320C578.8,324.3 579.6,324.8 581,327C582.4,329.2 584,331.5 585.8,333.3C587.5,335.1 589.6,336.4 591.5,337.6C593.4,338.8 595.6,339.5 597,340.3C598.4,341.1 596.2,341.4 600,342.6C603.8,343.8 613.3,346.1 620,347.5C626.7,348.9 633,349.8 640,351C647,352.2 658.2,353.9 661.9,354.5L661.9,357.7C658.2,357.1 647,355.3 640,354C633,352.7 626.7,351.4 620,350C613.3,348.6 604.5,347.3 600,345.5C595.5,343.7 595,341.1 592.7,339.3C590.4,337.5 588.1,336.4 586,334.5C583.9,332.6 581.7,330.4 580,328C578.3,325.6 576.9,324.5 575.6,320C574.3,315.5 574.5,307.7 572.1,301C569.8,294.3 564.6,286.7 561.5,280C558.4,273.3 556,267.5 553.6,261C551.2,254.5 549.4,246.3 547.3,241C545.2,235.7 543.2,233.2 541,229C538.8,224.8 536.2,219.6 534,215.6C531.8,211.6 529.8,208 527.5,205C525.2,202 522.9,199.8 520,197.5C517.1,195.2 513.3,193.2 510,191.5C506.7,189.8 503.3,188.2 500,187C496.7,185.8 495,185.1 490,184C485,182.9 478.3,181.6 470,180.5C461.7,179.4 450.8,178.2 440,177.5C429.2,176.8 410.8,176.2 405,176Z" fill="#d07100" stroke="#d07100" stroke-width="0.7" />
<path d="M612,344.5C614.2,344.9 620.3,346 625,346.8C629.7,347.6 634.8,348.5 640,349.5C645.2,350.5 653.3,352.2 656,352.8L656,354.8C653.3,354.4 645.2,353.4 640,352.5C634.8,351.6 629.7,350.8 625,349.5C620.3,348.2 614.2,345.8 612,345Z" fill="#aa0000" stroke="#aa0000" stroke-width="0.7" />
<path d="M405,168C410.8,168.2 429.2,168.8 440,169.5C450.8,170.2 461.7,171.2 470,172C478.3,172.8 485,173.8 490,174.5C495,175.2 497.8,175.1 500,176.5C502.2,177.9 501.2,181 503.5,182.7C505.8,184.4 511.1,185.4 514,186.9C516.9,188.4 518.7,189.7 521.1,191.8C523.5,193.9 526.3,197.1 528.2,199.6C530.1,202.1 530.8,203.9 532.4,206.6C534,209.3 537.1,214.1 538,215.6L534,215.6C532.9,213.8 529.8,208 527.5,205C525.2,202 522.9,199.8 520,197.5C517.1,195.2 513.3,193.2 510,191.5C506.7,189.8 503.3,188.2 500,187C496.7,185.8 495,185.1 490,184C485,182.9 478.3,181.6 470,180.5C461.7,179.4 450.8,178.2 440,177.5C429.2,176.8 410.8,176.2 405,176Z" fill="#d98e00" stroke="#d98e00" stroke-width="0.7" />
<path d="M405,173.4C410.8,173.6 429.2,174.1 440,174.8C450.8,175.5 461.7,176.6 470,177.5C478.3,178.4 485,179.5 490,180.5C495,181.5 498.3,183 500,183.5" fill="none" stroke="#d07100" stroke-width="1.2" stroke-linecap="butt" stroke-linejoin="round" />
<path d="M410.2,153.2C411.7,153.4 417.5,154 419,154.2" fill="none" stroke="#fff" stroke-width="0.8" stroke-linecap="butt" stroke-linejoin="round" />
<path d="M425.4,153.6C427.8,153.8 435.1,154.4 440,155C444.9,155.6 450,156.4 455,157.2C460,158 466.3,159.2 469.8,160C473.3,160.8 475,161.5 476,161.8" fill="none" stroke="#fff" stroke-width="0.9" stroke-linecap="butt" stroke-linejoin="round" />
<path d="M435.5,162.4C437.9,162.6 445.6,163.2 450,163.8C454.4,164.4 458.1,165.1 462,165.8C465.9,166.6 471.7,167.9 473.6,168.3" fill="none" stroke="#fff" stroke-width="1.1" stroke-linecap="butt" stroke-linejoin="round" />
<path d="M487.6,168.2C488,168.6 489.6,170.2 490,170.6" fill="none" stroke="#fff" stroke-width="1" stroke-linecap="butt" stroke-linejoin="round" />
<path d="M405,145.5C410.5,145.9 428.2,146.7 438,147.8C447.8,148.9 457.2,150.6 463.5,152C469.8,153.4 471.8,154.4 476,156.3C480.2,158.2 485.8,161.4 489,163.5C492.2,165.6 492.9,166.1 495,169C497.1,171.9 499.8,177.5 501.5,181C503.2,184.5 504.4,188.5 505,190" fill="none" stroke="#c65500" stroke-width="5" stroke-linecap="butt" stroke-linejoin="round" />
<path d="M405,176C410.8,176.2 429.2,176.8 440,177.5C450.8,178.2 461.7,179.4 470,180.5C478.3,181.6 485,182.9 490,184C495,185.1 496.7,185.8 500,187C503.3,188.2 506.7,189.8 510,191.5C513.3,193.2 517.1,195.2 520,197.5C522.9,199.8 525.2,202 527.5,205C529.8,208 531.8,211.6 534,215.6C536.2,219.6 538.8,224.8 541,229C543.2,233.2 545.2,235.7 547.3,241C549.4,246.3 551.2,254.5 553.6,261C556,267.5 558.4,273.3 561.5,280C564.6,286.7 569.8,294.3 572.1,301C574.5,307.7 574.3,315.5 575.6,320C576.9,324.5 578.3,325.6 580,328C581.7,330.4 583.9,332.6 586,334.5C588.1,336.4 590.4,337.5 592.7,339.3C595,341.1 595.5,343.7 600,345.5C604.5,347.3 613.3,348.6 620,350C626.7,351.4 633,352.7 640,354C647,355.3 658.2,357.1 661.9,357.7L661.9,361.5C658.2,360.8 647,358.9 640,357.5C633,356.1 626.7,354.7 620,353C613.3,351.3 604.5,348.8 600,347.2C595.5,345.6 595.3,344.8 593,343.5C590.7,342.2 589.4,341.6 586.3,339.3C583.2,337.1 577.6,333.2 574.5,330C571.4,326.8 569.3,324.8 567.5,320C565.7,315.2 565.5,307.7 563.7,301C561.9,294.3 559.1,286.7 556.8,280C554.5,273.3 551.8,267.4 550,261C548.2,254.6 547.8,246 545.8,241.5C543.8,237 540.3,236.9 538,234C535.7,231.1 534,227.3 532,224C530,220.7 528.2,216.9 526,214C523.8,211.1 521.7,208.8 519,206.5C516.3,204.2 513.2,202.2 510,200.5C506.8,198.8 503.3,197.8 500,196.5C496.7,195.2 495,193.8 490,192.5C485,191.2 478.3,189.7 470,188.5C461.7,187.3 450.8,186.2 440,185.5C429.2,184.8 410.8,184.2 405,184Z" fill="#e3aa00" stroke="#e3aa00" stroke-width="0.7" />
<path d="M600,345.5C603.3,346.2 613.3,348.6 620,350C626.7,351.4 633,352.7 640,354C647,355.3 658.2,357.1 661.9,357.7L661.9,361.5C658.2,360.8 647,358.9 640,357.5C633,356.1 626.7,354.7 620,353C613.3,351.3 603.3,348.2 600,347.2Z" fill="#d98e00" stroke="#d98e00" stroke-width="0.7" />
<path d="M470,188.5C473.3,189.2 485,191.2 490,192.5C495,193.8 496.7,195.2 500,196.5C503.3,197.8 506.8,198.8 510,200.5C513.2,202.2 516.3,204.2 519,206.5C521.7,208.8 523.8,211.1 526,214C528.2,216.9 530,220.7 532,224C534,227.3 535.7,231.1 538,234C540.3,236.9 543.8,237 545.8,241.5C547.8,246 548.2,254.6 550,261C551.8,267.4 554.5,273.3 556.8,280C559.1,286.7 561.9,294.3 563.7,301C565.5,307.7 565.7,315.2 567.5,320C569.3,324.8 571.4,326.8 574.5,330C577.6,333.2 583.2,337.1 586.3,339.3C589.4,341.6 590.7,342.2 593,343.5C595.3,344.8 595.5,345.6 600,347.2C604.5,348.8 613.3,351.3 620,353C626.7,354.7 633,356.1 640,357.5C647,358.9 658.2,360.8 661.9,361.5L661.9,366.9C658.2,366.2 647,364 640,362.5C633,361 626.7,359.8 620,358C613.3,356.2 605,353.6 600,351.5C595,349.4 593.2,347.5 590,345.5C586.8,343.5 584.1,341.9 580.7,339.3C577.3,336.7 572.6,333.2 569.8,330C567,326.8 565.4,324.8 563.8,320C562.2,315.2 561.7,307.7 560.1,301C558.5,294.3 556.1,286.7 554,280C551.9,273.3 549.1,267 547.3,261C545.5,255 544.9,248.2 543,244C541.1,239.8 538.2,239 536,236C533.8,233 532,229.3 530,226C528,222.7 526,219 524,216C522,213 520.3,210.4 518,208C515.7,205.6 513,203.4 510,201.5C507,199.6 503.3,198 500,196.5C496.7,195 495,193.8 490,192.5C485,191.2 473.3,189.2 470,188.5Z" fill="#ecc600" stroke="#ecc600" stroke-width="0.7" />
<path d="M470,188.5C473.3,189.2 485,191.2 490,192.5C495,193.8 496.7,195 500,196.5C503.3,198 507,199.6 510,201.5C513,203.4 515.7,205.6 518,208C520.3,210.4 522,213 524,216C526,219 528,222.7 530,226C532,229.3 533.8,233 536,236C538.2,239 541.1,239.8 543,244C544.9,248.2 545.5,255 547.3,261C549.1,267 551.9,273.3 554,280C556.1,286.7 558.5,294.3 560.1,301C561.7,307.7 562.2,315.2 563.8,320C565.4,324.8 567,326.8 569.8,330C572.6,333.2 577.3,336.7 580.7,339.3C584.1,341.9 586.8,343.5 590,345.5C593.2,347.5 595,349.4 600,351.5C605,353.6 613.3,356.2 620,358C626.7,359.8 633,361 640,362.5C647,364 658.2,366.2 661.9,366.9L661.9,376C658.2,375.8 647,374.9 640,374.5C633,374.1 626.7,373.8 620,373.5C613.3,373.2 606.8,373.6 600,373C593.2,372.4 584.1,372.5 579,370C573.9,367.5 572,363.2 569.4,358C566.8,352.8 565.2,345.3 563.1,339C561,332.7 558.4,326.3 556.7,320C555,313.7 555.1,307.7 553.1,301C551.1,294.3 547.4,286.3 545,280C542.6,273.7 541.6,268 538.8,263C536,258 531.1,254.2 528,250C524.9,245.8 522.3,242 520,238C517.7,234 516,230 514,226C512,222 510.3,217.6 508,214C505.7,210.4 503,207.3 500,204.5C497,201.7 495,199.1 490,197C485,194.9 473.3,192.8 470,192Z" fill="#e8c52a" stroke="#e8c52a" stroke-width="0.7" />
<path d="M538.8,263C540.8,265.8 547.8,273.7 551,280C554.2,286.3 556.2,294.3 558,301C559.8,307.7 559.8,313.7 561.7,320C563.6,326.3 566.5,332.8 569.4,339C572.3,345.2 575.9,352.5 579.3,357C582.7,361.5 586.5,364.3 590,366C593.5,367.7 595,366.7 600,367.3C605,367.9 613.3,368.9 620,369.5C626.7,370.1 633,370.4 640,371C647,371.6 658.2,372.5 661.9,372.8L661.9,376C658.2,375.8 647,374.9 640,374.5C633,374.1 626.7,373.8 620,373.5C613.3,373.2 606.8,373.6 600,373C593.2,372.4 584.1,372.5 579,370C573.9,367.5 572,363.2 569.4,358C566.8,352.8 565.2,345.3 563.1,339C561,332.7 558.4,326.3 556.7,320C555,313.7 553.7,304.2 553.1,301Z" fill="#dcb13c" stroke="#dcb13c" stroke-width="0.7" />
<path d="M505,208 Q516,209 524,220 Q530,229 532,237 Q524,232 518,222 Q512,212 505,208Z" fill="#d98e00"/>
<path d="M516,219 Q522,221 527,230" stroke="#d07100" stroke-width="1.2" fill="none"/>
<path d="M521,232 Q530,236 537,246 Q541,256 542,267 Q538,262 536,256 Q530,244 521,232Z" fill="#f6e300"/>
<path d="M562.9,318C563,318.3 562.6,318 563.8,320C564.9,322 567,326.8 569.8,330C572.6,333.2 577.7,336.9 580.7,339.3C583.7,341.7 585.5,342.6 588,344.5C590.5,346.4 594.7,349.5 596,350.5L596,359C595,358.8 592,358.3 590,357.5C588,356.7 585.9,355.6 584,354C582.1,352.4 580.5,350.4 578.5,348C576.5,345.6 574.5,342.3 572.3,339.3C570.1,336.3 567.1,333.2 565.5,330C563.9,326.8 563,322 562.5,320C562,318 562.3,318.3 562.3,318Z" fill="#f6e300" stroke="#f6e300" stroke-width="0.7" />
<path d="M582,344C585,345.1 595,348.6 600,350.5C605,352.4 608.5,354.2 612,355.5C615.5,356.8 619.5,358 621,358.5" fill="none" stroke="#d07100" stroke-width="1.3" stroke-linecap="butt" stroke-linejoin="round" />
<path d="M553,292C553.8,293.5 556.5,296.3 558,301C559.5,305.7 560.4,315 561.7,320C563,325 565.1,329.2 565.8,331L565.2,331C564.3,329.2 561.5,325 560,320C558.5,315 557.7,305.7 556.5,301C555.3,296.3 553.6,293.5 553,292Z" fill="#ffff00" stroke="#ffff00" stroke-width="0.7" />
<path d="M576,356.5C577.2,356.6 580.7,356.8 583,357.3C585.3,357.8 587.2,358.9 590,359.3C592.8,359.7 595,359 600,359.7C605,360.4 613.3,362.5 620,363.5C626.7,364.5 633,364.9 640,365.5C647,366.1 658.2,366.7 661.9,366.9L661.9,372.8C658.2,372.5 647,371.6 640,371C633,370.4 626.7,370.1 620,369.5C613.3,368.9 605,367.8 600,367.3C595,366.8 592.8,366.9 590,366.3C587.2,365.7 585.3,365.1 583,363.5C580.7,361.9 577.2,357.9 576,356.8Z" fill="#ffff00" stroke="#ffff00" stroke-width="0.7" />
<path d="M405,184C410.8,184.2 429.2,184.8 440,185.5C450.8,186.2 461.7,187.1 470,188.5C478.3,189.9 485,191.3 490,194C495,196.7 497,201.2 500,204.5C503,207.8 505.7,210.4 508,214C510.3,217.6 512,222 514,226C516,230 517.7,234 520,238C522.3,242 526.7,248 528,250L527,312C525.8,311.5 524.5,310.2 520,309C515.5,307.8 508.3,306.2 500,305C491.7,303.8 485.8,302.8 470,302C454.2,301.2 415.8,300.3 405,300Z" fill="#e8c52a" stroke="#e8c52a" stroke-width="0.7" />
<path d="M405,184C410.8,184.2 429.2,184.8 440,185.5C450.8,186.2 461.7,187.1 470,188.5C478.3,189.9 485,191.3 490,194C495,196.7 497,201.2 500,204.5C503,207.8 505.7,210.4 508,214C510.3,217.6 512,222 514,226C516,230 517.7,234 520,238C522.3,242 524.9,245.8 528,250C531.1,254.2 537,260.8 538.8,263L536,262C534.3,260.2 528.8,254.7 526,251C523.2,247.3 521.2,243.8 519,240C516.8,236.2 515,232 513,228C511,224 509.2,219.4 507,216C504.8,212.6 502.8,210.5 500,207.5C497.2,204.5 495,200.6 490,198C485,195.4 478.3,193.6 470,192C461.7,190.4 450.8,189.3 440,188.5C429.2,187.7 410.8,187.2 405,187Z" fill="#c5945a" stroke="#c5945a" stroke-width="0.7" />
<path d="M405,187C410.8,187.2 429.2,187.7 440,188.5C450.8,189.3 461.7,190.4 470,192C478.3,193.6 485,195.4 490,198C495,200.6 497.2,204.5 500,207.5C502.8,210.5 504.8,212.6 507,216C509.2,219.4 511,224 513,228C515,232 516.8,236.2 519,240C521.2,243.8 523.2,247.3 526,251C528.8,254.7 534.3,260.2 536,262L531,262C529.7,260.5 525.3,256 523,253C520.7,250 519,247.3 517,244C515,240.7 513,236.7 511,233C509,229.3 507,225.1 505,222C503,218.9 501.5,217 499,214.5C496.5,212 494.8,209.3 490,207C485.2,204.7 478.3,202.2 470,200.5C461.7,198.8 450.8,197.6 440,196.7C429.2,195.8 410.8,195.3 405,195Z" fill="#ae866f" stroke="#ae866f" stroke-width="0.7" />
<path d="M405,195C410.8,195.3 429.2,195.8 440,196.7C450.8,197.6 461.7,198.8 470,200.5C478.3,202.2 485.2,204.7 490,207C494.8,209.3 496.5,212 499,214.5C501.5,217 503,218.9 505,222C507,225.1 509,229.3 511,233C513,236.7 515,240.7 517,244C519,247.3 520.7,250 523,253C525.3,256 529.7,260.5 531,262L529,263C527.8,261.7 524.2,257.8 522,255C519.8,252.2 518,249.3 516,246C514,242.7 512,238.6 510,235C508,231.4 506,227.6 504,224.5C502,221.4 500.3,218.9 498,216.5C495.7,214.1 494.7,212.2 490,210C485.3,207.8 478.3,205.1 470,203.3C461.7,201.5 450.8,200.3 440,199.3C429.2,198.3 410.8,197.8 405,197.5Z" fill="#c5945a" stroke="#c5945a" stroke-width="0.7" />
<path d="M405,197.5C410.8,197.8 429.2,198.3 440,199.3C450.8,200.3 461.7,201.5 470,203.3C478.3,205.1 485.3,207.8 490,210C494.7,212.2 495.7,214.1 498,216.5C500.3,218.9 502,221.4 504,224.5C506,227.6 508,231.4 510,235C512,238.6 514,242.7 516,246C518,249.3 519.8,252.2 522,255C524.2,257.8 527.8,261.7 529,263L521.5,263.8C520.7,261.3 518.1,253 516.5,249C514.9,245 513.6,242.8 512,240C510.4,237.2 509,234.7 507,232C505,229.3 503,226.7 500,224C497,221.3 497.2,218.9 489,216C480.8,213.1 465,208.7 451,206.5C437,204.3 412.7,203.2 405,202.6Z" fill="#97807b" stroke="#97807b" stroke-width="0.7" />
<path d="M538,261C539.2,264.2 542.5,273.3 545,280C547.5,286.7 551.1,294.3 553.1,301C555.1,307.7 555,313.7 556.7,320C558.4,326.3 561,332.7 563.1,339C565.2,345.3 566.8,352.8 569.4,358C572,363.2 573.9,367.5 579,370C584.1,372.5 593.2,372.4 600,373C606.8,373.6 613.3,373.2 620,373.5C626.7,373.8 633,374.1 640,374.5C647,374.9 658.2,375.8 661.9,376L661.9,380.3C658.2,380 647,379 640,378.5C633,378 626.7,377.8 620,377.5C613.3,377.2 605.8,377.1 600,376.8C594.2,376.6 589.7,377 585,376C580.3,375 575.8,374 572,371C568.2,368 564.9,363.3 562.4,358C559.9,352.7 558.7,345.3 556.8,339C554.9,332.7 552.5,326.3 551,320C549.5,313.7 549.4,307.7 547.5,301C545.6,294.3 542.7,286.7 539.5,280C536.3,273.3 530.1,264.2 528.2,261Z" fill="#c5945a" stroke="#c5945a" stroke-width="0.7" />
<path d="M528.2,261C530.1,264.2 536.3,273.3 539.5,280C542.7,286.7 545.6,294.3 547.5,301C549.4,307.7 549.5,313.7 551,320C552.5,326.3 554.9,332.7 556.8,339C558.7,345.3 559.9,352.7 562.4,358C564.9,363.3 568.2,368 572,371C575.8,374 580.3,375 585,376C589.7,377 594.2,376.6 600,376.8C605.8,377.1 613.3,377.2 620,377.5C626.7,377.8 633,378 640,378.5C647,379 658.2,380 661.9,380.3L661.9,386.7C658.2,386.5 647,385.9 640,385.5C633,385.1 626.7,384.6 620,384C613.3,383.4 606.7,382.6 600,381.9C593.3,381.2 585.3,381.6 580,380C574.7,378.4 571.6,375.7 568,372C564.4,368.3 561.1,363.5 558.2,358C555.3,352.5 552.4,345.3 550.4,339C548.4,332.7 547.5,326.3 546,320C544.5,313.7 543.5,307.7 541.1,301C538.7,294.3 534.7,286.3 531.5,280C528.3,273.7 523.6,265.8 522,263Z" fill="#8b807e" stroke="#8b807e" stroke-width="0.7" />
<path d="M516.5,249C517.3,251 519.2,255.8 521.2,261C523.2,266.2 526.1,273.3 528.5,280C530.9,286.7 533.3,294.3 535.5,301C537.7,307.7 539.4,313.7 541.5,320C543.6,326.3 545.4,332.7 548,339C550.6,345.3 555.5,354.8 557,358L558.2,358C556.9,354.8 552.4,345.3 550.4,339C548.4,332.7 547.5,326.3 546,320C544.5,313.7 543.5,307.7 541.1,301C538.7,294.3 533.6,286.7 531.5,280C529.4,273.3 529.9,266 528.2,261C526.5,256 522.4,251.8 521.2,250Z" fill="#97807b" stroke="#97807b" stroke-width="0.7" />
<path d="M528.4,266C530.2,268.3 536.3,274.2 539.5,280C542.7,285.8 545.6,294.3 547.5,301C549.4,307.7 549.5,313.7 551,320C552.5,326.3 554.9,332.7 556.8,339C558.7,345.3 560,352.8 562.4,358C564.8,363.2 567.6,366.5 571,370C574.4,373.5 578.2,377 583,379C587.8,381 593.8,381.1 600,381.9C606.2,382.7 613.3,383.4 620,384C626.7,384.6 633,385.1 640,385.5C647,385.9 658.2,386.5 661.9,386.7L661.9,392.1C658.2,392 647,391.7 640,391.5C633,391.3 626.7,391.2 620,391C613.3,390.8 604.7,390.4 600,390.1C595.3,389.8 595.3,390.2 592,389C588.7,387.8 584.2,386 580,383C575.8,380 570.6,375.2 567,371C563.4,366.8 561.2,363.3 558.5,358C555.8,352.7 553,345.3 551,339C549,332.7 548,326.3 546.5,320C545,313.7 544.1,307.7 542,301C539.9,294.3 536.3,285.5 534,280C531.7,274.5 529.2,270 528.2,268Z" fill="#808080" stroke="#808080" stroke-width="0.7" />
<polygon points="556,376 566,380 576,382 584,383 596,388 596,394 578,393.5 568,393 558,389" fill="#e8c52a" />
<path d="M583,389.5C584.5,389.5 589.2,389.2 592,389.3C594.8,389.4 595.3,389.8 600,390.1C604.7,390.4 613.3,390.8 620,391C626.7,391.2 633,391.3 640,391.5C647,391.7 658.2,392 661.9,392.1L661.9,394.8C658.2,394.8 647,394.6 640,394.5C633,394.4 626.7,394.2 620,394C613.3,393.8 604.7,393.5 600,393.3C595.3,393.1 595.7,393.1 592,393C588.3,392.9 580.3,392.6 578,392.5Z" fill="#c5945a" stroke="#c5945a" stroke-width="0.7" />
<path d="M570,390.5C571.3,390.8 574.3,392.1 578,392.5C581.7,392.9 588.3,392.9 592,393C595.7,393.1 595.3,393.1 600,393.3C604.7,393.5 613.3,393.8 620,394C626.7,394.2 633,394.4 640,394.5C647,394.6 658.2,394.8 661.9,394.8L661.9,398.6C655.6,398.5 634.2,398.3 624.4,398C614.6,397.7 610.1,397.5 603,397C595.9,396.5 587,395.4 581.5,394.9C576,394.4 571.9,394 570,393.8Z" fill="#e3aa00" stroke="#e3aa00" stroke-width="0.7" />
<path d="M405,202.6C412.7,203.2 437,204.3 451,206.5C465,208.7 480.8,213.1 489,216C497.2,218.9 497,221.3 500,224C503,226.7 505.3,229.2 507,232C508.7,234.8 508.8,238.2 510,241C511.2,243.8 513.3,247.7 514,249L512,249C511.3,248 509.5,245.3 508,243C506.5,240.7 505.2,237.8 503,235C500.8,232.2 499.5,229.2 495,226C490.5,222.8 483.3,218.7 476,216C468.7,213.3 462.8,211.4 451,209.8C439.2,208.2 412.7,207 405,206.4Z" fill="#e3aa00" stroke="#e3aa00" stroke-width="0.7" />
<path d="M405,203.3C412.7,203.9 439.2,205.2 451,206.8C462.8,208.4 468.7,210.3 476,213C483.3,215.7 490.5,219.8 495,223C499.5,226.2 501.7,230.5 503,232" fill="none" stroke="#ffff00" stroke-width="1.4" stroke-linecap="butt" stroke-linejoin="round" />
<path d="M405,206.4C412.7,207 439.2,208.2 451,209.8C462.8,211.4 468.7,213.3 476,216C483.3,218.7 490.5,222.8 495,226C499.5,229.2 500.8,232.2 503,235C505.2,237.8 506.5,240.7 508,243C509.5,245.3 511.3,248 512,249L511,250C510,248.7 507.7,244.8 505,242C502.3,239.2 499.5,235.8 495,233C490.5,230.2 485.3,227.2 478,225C470.7,222.8 463.2,220.9 451,219.5C438.8,218.1 412.7,217.1 405,216.6Z" fill="#e8c52a" stroke="#e8c52a" stroke-width="0.7" />
<path d="M405,216.6C412.7,217.1 438.8,218.1 451,219.5C463.2,220.9 470.7,222.8 478,225C485.3,227.2 492.2,231.7 495,233L495,233C492.5,232.3 485.8,229.9 480,229C474.2,228.1 466.7,228.2 460,227.8C453.3,227.4 449.2,226.8 440,226.3C430.8,225.8 410.8,225.1 405,224.8Z" fill="#ffff00" stroke="#ffff00" stroke-width="0.7" />
<path d="M405,224.8C410.8,225.1 430.8,225.8 440,226.3C449.2,226.8 453.3,227.4 460,227.8C466.7,228.2 474.2,228.1 480,229C485.8,229.9 490.8,230.8 495,233C499.2,235.2 502.3,239.2 505,242C507.7,244.8 510,248.7 511,250L513,251C511.7,250 509,247.1 505,245C501,242.9 498,240.5 489,238.5C480,236.5 465,234.3 451,233C437,231.7 412.7,230.9 405,230.5Z" fill="#dcb13c" stroke="#dcb13c" stroke-width="0.7" />
<path d="M405,230.5C412.7,230.9 437,231.7 451,233C465,234.3 480,236.5 489,238.5C498,240.5 501,242.9 505,245C509,247.1 511.7,250 513,251L514,255C512.7,254.4 510.2,252.9 506,251.5C501.8,250.1 498.2,248.3 489,246.8C479.8,245.3 465,243.4 451,242.3C437,241.2 412.7,240.4 405,240Z" fill="#c5945a" stroke="#c5945a" stroke-width="0.7" />
<path d="M405,240C412.7,240.4 437,241.2 451,242.3C465,243.4 479.8,245.3 489,246.8C498.2,248.3 501.8,250.1 506,251.5C510.2,252.9 512.7,254.4 514,255L528.2,268C527.2,268 523.9,268.9 522,268C520.1,267.1 519.3,264.2 517,262.5C514.7,260.8 512.7,259.2 508,257.5C503.3,255.8 498.5,253.9 489,252.3C479.5,250.7 465,249.1 451,248C437,246.9 412.7,246.2 405,245.8Z" fill="#808080" stroke="#808080" stroke-width="0.7" />
<path d="M405,245.8C412.7,246.2 437,246.9 451,248C465,249.1 479.5,250.7 489,252.3C498.5,253.9 503.3,255.8 508,257.5C512.7,259.2 515.5,261.7 517,262.5L518,269C516.3,268 512.8,264.9 508,263C503.2,261.1 498.5,259.2 489,257.5C479.5,255.8 465,254.1 451,253C437,251.9 412.7,251.2 405,250.9Z" fill="#97807b" stroke="#97807b" stroke-width="0.7" />
<path d="M405,250.9C412.7,251.2 437,251.9 451,253C465,254.1 479.5,255.8 489,257.5C498.5,259.2 503.2,261.1 508,263C512.8,264.9 516.3,268 518,269L520,277C518,275.9 513.2,272.6 508,270.5C502.8,268.4 498.5,266.3 489,264.5C479.5,262.7 465,260.7 451,259.5C437,258.3 412.7,257.6 405,257.2Z" fill="#dcb13c" stroke="#dcb13c" stroke-width="0.7" />
<path d="M405,257.2C412.7,257.6 437,258.3 451,259.5C465,260.7 479.5,262.7 489,264.5C498.5,266.3 502.8,268.4 508,270.5C513.2,272.6 518,275.9 520,277L522,284C519.7,282.8 513.5,278.8 508,276.5C502.5,274.2 498.5,272 489,270C479.5,268 465,266 451,264.7C437,263.4 412.7,262.7 405,262.3Z" fill="#ae866f" stroke="#ae866f" stroke-width="0.7" />
<path d="M405,262.3C412.7,262.7 437,263.4 451,264.7C465,266 479.5,268 489,270C498.5,272 502.5,274.2 508,276.5C513.5,278.8 519.7,282.8 522,284L524,289.5C521.3,288.2 513.8,284.2 508,282C502.2,279.8 498.5,277.9 489,276C479.5,274.1 465,271.8 451,270.5C437,269.2 412.7,268.4 405,268Z" fill="#d1a04c" stroke="#d1a04c" stroke-width="0.7" />
<path d="M405,268C412.7,268.4 437,269.2 451,270.5C465,271.8 479.5,274.1 489,276C498.5,277.9 502.2,279.8 508,282C513.8,284.2 521.3,288.2 524,289.5L525,293C522.2,291.9 514,288.4 508,286.5C502,284.6 498.5,283.3 489,281.5C479.5,279.7 465,277.2 451,275.8C437,274.4 412.7,273.7 405,273.3Z" fill="#dcb13c" stroke="#dcb13c" stroke-width="0.7" />
<path d="M512,249C512.5,249 513.7,246.5 515.1,249C516.5,251.5 518.6,258.9 520.4,263.8C522.2,268.7 524,273.9 525.7,278.6C527.5,283.4 529.1,287.6 530.9,292.3C532.6,297.1 534.5,302.2 536.2,307.1C537.9,312 539.5,317 541.1,321.9C542.8,326.8 544.5,332.2 546.1,336.6C547.8,341.1 549.4,344.9 551,348.6C552.6,352.3 554.2,356 555.9,359C557.6,362 559.3,364.4 561,366.7C562.7,369 564.4,371.1 566.1,373C567.8,374.9 569.5,376.7 571.2,378.1C572.9,379.5 574.7,380.4 576.5,381.3C578.3,382.2 580.9,383.4 581.8,383.8L582,390C580.3,389.7 575.2,389.3 572,388C568.8,386.7 566.2,384.7 563,382C559.8,379.3 555.9,376 553,372C550.1,368 547.9,363.5 545.5,358C543.1,352.5 540,345.3 538.5,339C537,332.7 537,325.2 536.2,320C535.5,314.8 534.9,312 534,308C533.1,304 532.2,298.9 531,296C529.8,293.1 528.8,294.5 527,290.5C525.2,286.5 522.5,278.4 520,272C517.5,265.6 513.3,255.3 512,252Z" fill="#e8c52a" stroke="#e8c52a" stroke-width="0.7" />
<path d="M405,273.3C412.7,273.7 437,274.4 451,275.8C465,277.2 479.5,279.7 489,281.5C498.5,283.3 502,284.6 508,286.5C514,288.4 521.5,291.2 525,293C528.5,294.8 527.7,294.2 529,297C530.3,299.8 531.8,305.8 533,310C534.2,314.2 535.3,317.2 536.5,322C537.7,326.8 538.2,333.3 540,339C541.8,344.7 544.8,350.7 547.5,356C550.2,361.3 552.9,366.8 556,371C559.1,375.2 563,378.5 566,381C569,383.5 572.7,385.2 574,386L572,388C570.5,387 566.2,384.7 563,382C559.8,379.3 555.9,376 553,372C550.1,368 547.9,363.5 545.5,358C543.1,352.5 540,345.3 538.5,339C537,332.7 537,325.2 536.2,320C535.5,314.8 534.9,312 534,308C533.1,304 532.2,298.9 531,296C529.8,293.1 530.5,291.6 527,290.5C523.5,289.4 516.3,290.5 510,289.5C503.7,288.5 498.8,286 489,284.5C479.2,283 465,281.5 451,280.5C437,279.5 412.7,278.8 405,278.4Z" fill="#e8c52a" stroke="#e8c52a" stroke-width="0.7" />
<path d="M405,278.4C412.7,278.8 437,279.5 451,280.5C465,281.5 479.2,283 489,284.5C498.8,286 503.7,288.5 510,289.5C516.3,290.5 523.5,289.4 527,290.5C530.5,291.6 529.8,293.1 531,296C532.2,298.9 533.1,304 534,308C534.9,312 535.5,314.8 536.2,320C537,325.2 537,332.7 538.5,339C540,345.3 543.1,352.5 545.5,358C547.9,363.5 550.1,368 553,372C555.9,376 559.8,379.3 563,382C566.2,384.7 570.5,387 572,388L572,390C570,389.1 563.7,387.4 560,384.4C556.3,381.4 552.9,376.4 550,372C547.1,367.6 545,363.5 542.7,358C540.4,352.5 537.8,345.3 536.3,339C534.8,332.7 535,325 534,320C533,315 531.1,312.3 530,309C528.9,305.7 528.5,302.1 527.5,300C526.5,297.9 526.9,297.6 524,296.3C521.1,295.1 515.8,293.9 510,292.5C504.2,291.1 498.8,289.2 489,287.7C479.2,286.2 465,284.6 451,283.6C437,282.6 412.7,281.9 405,281.6Z" fill="#ffff00" stroke="#ffff00" stroke-width="0.7" />
<path d="M405,281.6C412.7,281.9 437,282.6 451,283.6C465,284.6 479.2,286.2 489,287.7C498.8,289.2 504.2,291.1 510,292.5C515.8,293.9 521.1,295.1 524,296.3C526.9,297.6 526.5,297.9 527.5,300C528.5,302.1 528.9,305.7 530,309C531.1,312.3 533,315 534,320C535,325 534.8,332.7 536.3,339C537.8,345.3 540.4,352.5 542.7,358C545,363.5 547.1,367.6 550,372C552.9,376.4 556.3,381.4 560,384.4C563.7,387.4 570,389.1 572,390L572,391.5C570.2,390.6 564.8,389.1 561,386C557.2,382.9 552.7,377.7 549.5,373C546.3,368.3 544,363.7 541.7,358C539.4,352.3 537.1,344.7 535.7,339C534.3,333.3 534.2,328.2 533.1,324C532,319.8 530.3,317.2 529.2,314C528.1,310.8 527.4,307.2 526.5,305C525.6,302.8 526.8,302 524,300.5C521.2,299 515.8,297.6 510,296C504.2,294.4 498.8,292.4 489,291C479.2,289.6 465,288.2 451,287.3C437,286.4 412.7,285.7 405,285.4Z" fill="#ecc600" stroke="#ecc600" stroke-width="0.7" />
<path d="M405,285.4C412.7,285.7 437,286.4 451,287.3C465,288.2 479.2,289.6 489,291C498.8,292.4 504.2,294.4 510,296C515.8,297.6 521.2,299 524,300.5C526.8,302 525.6,302.8 526.5,305C527.4,307.2 528.1,310.8 529.2,314C530.3,317.2 532,319.8 533.1,324C534.2,328.2 534.3,333.3 535.7,339C537.1,344.7 539.4,352.3 541.7,358C544,363.7 546.3,368.3 549.5,373C552.7,377.7 557.2,382.9 561,386C564.8,389.1 570.2,390.6 572,391.5L572,392.5C570.4,391.7 566.3,390.6 562.6,387.5C558.9,384.4 553.2,378.9 549.7,374C546.2,369.1 543.6,363.5 541.3,358C539,352.5 537.2,346.3 535.7,341C534.2,335.7 534.1,330.2 532.6,326C531.1,321.8 528.2,318.8 527,316C525.8,313.2 526.2,311 525.5,309C524.8,307 525.6,305.6 523,304C520.4,302.4 515.7,301.1 510,299.5C504.3,297.9 498.8,296.1 489,294.7C479.2,293.3 465,291.9 451,291C437,290.1 412.7,289.5 405,289.2Z" fill="#e3aa00" stroke="#e3aa00" stroke-width="0.7" />
<path d="M405,289.2C412.7,289.5 437,290.1 451,291C465,291.9 479.2,293.3 489,294.7C498.8,296.1 504.3,297.9 510,299.5C515.7,301.1 520.4,302.4 523,304C525.6,305.6 524.8,307 525.5,309C526.2,311 525.8,313.2 527,316C528.2,318.8 531.1,321.8 532.6,326C534.1,330.2 534.2,335.7 535.7,341C537.2,346.3 539,352.5 541.3,358C543.6,363.5 546.2,369.1 549.7,374C553.2,378.9 558.9,384.4 562.6,387.5C566.3,390.6 570.4,391.7 572,392.5L572,393.5C570.6,392.7 567.4,391.6 563.7,388.5C560,385.4 553.6,379.9 549.9,375C546.2,370.1 543.7,364.5 541.3,359C538.9,353.5 537.1,347 535.6,342C534.1,337 533.4,332.8 532.5,329C531.6,325.2 531.8,321.7 530.4,319C529,316.3 525.4,314.8 524,313C522.6,311.2 524.3,309.9 522,308.5C519.7,307.1 515.5,305.9 510,304.5C504.5,303.1 498.8,301.2 489,299.8C479.2,298.4 465,296.9 451,296C437,295.1 412.7,294.6 405,294.3Z" fill="#d07100" stroke="#d07100" stroke-width="0.7" />
<path d="M405,294.3C412.7,294.6 437,295.1 451,296C465,296.9 479.2,298.4 489,299.8C498.8,301.2 504.5,303.1 510,304.5C515.5,305.9 519.7,307.1 522,308.5C524.3,309.9 522.6,311.2 524,313C525.4,314.8 529,316.3 530.4,319C531.8,321.7 531.6,325.2 532.5,329C533.4,332.8 534.1,337 535.6,342C537.1,347 538.9,353.5 541.3,359C543.7,364.5 546.2,370.1 549.9,375C553.6,379.9 560,385.4 563.7,388.5C567.4,391.6 570.6,392.7 572,393.5L572,394.3C570.7,393.4 567.7,392.2 564,389.2C560.3,386.1 553.5,380.9 549.7,376C545.9,371.1 543.4,365.5 541,360C538.6,354.5 536.7,348 535.2,343C533.7,338 532.8,334 531.9,330C531,326 531.4,321.6 529.8,319C528.2,316.4 524.1,315.6 522.5,314.5C520.9,313.4 522.1,313.3 520,312.5C517.9,311.7 515.2,310.8 510,309.5C504.8,308.2 498.8,306.4 489,305C479.2,303.6 465,301.9 451,301C437,300.1 412.7,299.7 405,299.4Z" fill="#c65500" stroke="#c65500" stroke-width="0.7" />
<path d="M405,299.4C412.7,299.7 437,300.1 451,301C465,301.9 479.2,303.6 489,305C498.8,306.4 504.8,308.2 510,309.5C515.2,310.8 517.9,311.7 520,312.5C522.1,313.3 520.9,313.4 522.5,314.5C524.1,315.6 528.2,316.4 529.8,319C531.4,321.6 531,326 531.9,330C532.8,334 533.7,338 535.2,343C536.7,348 538.6,354.5 541,360C543.4,365.5 545.9,371.1 549.7,376C553.5,380.9 560.3,386.1 564,389.2C567.7,392.2 570.7,393.4 572,394.3L572,395C568.8,394.2 556.7,393.3 553,390.5C549.3,387.7 551.9,382.8 549.9,378C547.9,373.2 543.4,367.5 540.9,362C538.4,356.5 536.3,350 534.6,345C532.9,340 531.9,335.8 530.9,332C529.9,328.2 529.5,324.3 528.9,322C528.3,319.7 530.4,319.2 527.3,318C524.1,316.8 516.4,316.2 510,315C503.6,313.8 498.8,311.9 489,310.5C479.2,309.1 465,307.4 451,306.5C437,305.6 412.7,305.2 405,305Z" fill="#b31c00" stroke="#b31c00" stroke-width="0.7" />
<g stroke="#000" stroke-width="1" opacity="0.62">
<line x1="515.5" y1="231.5" x2="515.5" y2="266.5"/>
<line x1="509.5" y1="266.5" x2="520.7" y2="266.5"/>
<line x1="509.5" y1="231.5" x2="520.7" y2="231.5" opacity="0.5"/>
<line x1="520.5" y1="246.5" x2="520.5" y2="281.5"/>
<line x1="514.8" y1="281.5" x2="526" y2="281.5"/>
<line x1="514.8" y1="246.5" x2="526" y2="246.5" opacity="0.5"/>
<line x1="526.5" y1="261.5" x2="526.5" y2="296.5"/>
<line x1="520.1" y1="296.5" x2="531.3" y2="296.5"/>
<line x1="520.1" y1="261.5" x2="531.3" y2="261.5" opacity="0.5"/>
<line x1="531.5" y1="274.5" x2="531.5" y2="309.5"/>
<line x1="525.3" y1="309.5" x2="536.5" y2="309.5"/>
<line x1="525.3" y1="274.5" x2="536.5" y2="274.5" opacity="0.5"/>
<line x1="536.5" y1="289.5" x2="536.5" y2="324.5"/>
<line x1="530.6" y1="324.5" x2="541.8" y2="324.5"/>
<line x1="530.6" y1="289.5" x2="541.8" y2="289.5" opacity="0.5"/>
<line x1="541.5" y1="304.5" x2="541.5" y2="339.5"/>
<line x1="535.5" y1="339.5" x2="546.7" y2="339.5"/>
<line x1="535.5" y1="304.5" x2="546.7" y2="304.5" opacity="0.5"/>
<line x1="546.5" y1="319.5" x2="546.5" y2="354.5"/>
<line x1="540.5" y1="354.5" x2="551.7" y2="354.5"/>
<line x1="540.5" y1="319.5" x2="551.7" y2="319.5" opacity="0.5"/>
<line x1="551.5" y1="331.5" x2="551.5" y2="366.5"/>
<line x1="545.4" y1="366.5" x2="556.6" y2="366.5"/>
<line x1="545.4" y1="331.5" x2="556.6" y2="331.5" opacity="0.5"/>
<line x1="556.5" y1="341.5" x2="556.5" y2="376.5"/>
<line x1="550.3" y1="376.5" x2="561.5" y2="376.5"/>
<line x1="550.3" y1="341.5" x2="561.5" y2="341.5" opacity="0.5"/>
<line x1="561.5" y1="350.5" x2="561.5" y2="382.5"/>
<line x1="555.4" y1="382.5" x2="566.6" y2="382.5"/>
<line x1="555.4" y1="350.5" x2="566.6" y2="350.5" opacity="0.5"/>
<line x1="566.5" y1="356.5" x2="566.5" y2="389.5"/>
<line x1="560.5" y1="389.5" x2="571.7" y2="389.5"/>
<line x1="560.5" y1="356.5" x2="571.7" y2="356.5" opacity="0.5"/>
<line x1="571.5" y1="361.5" x2="571.5" y2="394.5"/>
<line x1="565.6" y1="394.5" x2="576.8" y2="394.5"/>
<line x1="565.6" y1="361.5" x2="576.8" y2="361.5" opacity="0.5"/>
<line x1="576.5" y1="365.5" x2="576.5" y2="397.5"/>
<line x1="570.9" y1="397.5" x2="582.1" y2="397.5"/>
<line x1="570.9" y1="365.5" x2="582.1" y2="365.5" opacity="0.5"/>
<line x1="582.5" y1="367.5" x2="582.5" y2="400.5"/>
<line x1="576.2" y1="400.5" x2="587.4" y2="400.5"/>
<line x1="576.2" y1="367.5" x2="587.4" y2="367.5" opacity="0.5"/>
<line x1="587.5" y1="368.5" x2="587.5" y2="400.5"/>
<line x1="581.4" y1="400.5" x2="592.6" y2="400.5"/>
<line x1="581.4" y1="368.5" x2="592.6" y2="368.5" opacity="0.5"/>
<line x1="592.5" y1="368.5" x2="592.5" y2="400.5"/>
<line x1="586.5" y1="400.5" x2="597.7" y2="400.5"/>
<line x1="586.5" y1="368.5" x2="597.7" y2="368.5" opacity="0.5"/>
<line x1="597.5" y1="368.5" x2="597.5" y2="400.5"/>
<line x1="591.6" y1="400.5" x2="602.8" y2="400.5"/>
<line x1="591.6" y1="368.5" x2="602.8" y2="368.5" opacity="0.5"/>
<line x1="602.5" y1="368.5" x2="602.5" y2="400.5"/>
<line x1="596.7" y1="400.5" x2="607.9" y2="400.5"/>
<line x1="596.7" y1="368.5" x2="607.9" y2="368.5" opacity="0.5"/>
<line x1="607.5" y1="368.5" x2="607.5" y2="400.5"/>
<line x1="601.8" y1="400.5" x2="613" y2="400.5"/>
<line x1="601.8" y1="368.5" x2="613" y2="368.5" opacity="0.5"/>
<line x1="612.5" y1="368.5" x2="612.5" y2="400.5"/>
<line x1="606.8" y1="400.5" x2="618" y2="400.5"/>
<line x1="606.8" y1="368.5" x2="618" y2="368.5" opacity="0.5"/>
<line x1="617.5" y1="367.5" x2="617.5" y2="400.5"/>
<line x1="611.9" y1="400.5" x2="623.1" y2="400.5"/>
<line x1="611.9" y1="367.5" x2="623.1" y2="367.5" opacity="0.5"/>
<line x1="622.5" y1="367.5" x2="622.5" y2="399.5"/>
<line x1="617" y1="399.5" x2="628.2" y2="399.5"/>
<line x1="617" y1="367.5" x2="628.2" y2="367.5" opacity="0.5"/>
<line x1="628.5" y1="366.5" x2="628.5" y2="397.5"/>
<line x1="622.4" y1="397.5" x2="633.6" y2="397.5"/>
<line x1="622.4" y1="366.5" x2="633.6" y2="366.5" opacity="0.5"/>
<line x1="633.5" y1="365.5" x2="633.5" y2="396.5"/>
<line x1="627.6" y1="396.5" x2="638.8" y2="396.5"/>
<line x1="627.6" y1="365.5" x2="638.8" y2="365.5" opacity="0.5"/>
<line x1="638.5" y1="364.5" x2="638.5" y2="395.5"/>
<line x1="632.8" y1="395.5" x2="644" y2="395.5"/>
<line x1="632.8" y1="364.5" x2="644" y2="364.5" opacity="0.5"/>
<line x1="643.5" y1="363.5" x2="643.5" y2="395.5"/>
<line x1="637.9" y1="395.5" x2="649.1" y2="395.5"/>
<line x1="637.9" y1="363.5" x2="649.1" y2="363.5" opacity="0.5"/>
<line x1="648.5" y1="362.5" x2="648.5" y2="393.5"/>
<line x1="643" y1="393.5" x2="654.2" y2="393.5"/>
<line x1="643" y1="362.5" x2="654.2" y2="362.5" opacity="0.5"/>
<line x1="654.5" y1="361.5" x2="654.5" y2="393.5"/>
<line x1="648.1" y1="393.5" x2="659.3" y2="393.5"/>
<line x1="648.1" y1="361.5" x2="659.3" y2="361.5" opacity="0.5"/>
</g>
<polyline points="515.1,249 520.4,263.8 525.7,278.6 530.9,292.3 536.2,307.1 541.1,321.9 546.1,336.6 551,348.6 555.9,359 561,366.7 566.1,373 571.2,378.1 576.5,381.3 581.8,383.8 587,384.4 592.1,384.7 597.2,384.7 602.3,384.7 607.4,384.7 612.4,384.4 617.5,383.8 622.6,383.2 628,381.6 633.2,380.6 638.4,380 643.5,379.4 648.6,377.8 653.7,377.5" fill="none" stroke="#000" stroke-width="3.3" stroke-linejoin="round" />
<circle cx="515.1" cy="249" r="3.3" fill="#000"/>
<circle cx="520.4" cy="263.8" r="3.3" fill="#000"/>
<circle cx="525.7" cy="278.6" r="3.3" fill="#000"/>
<circle cx="530.9" cy="292.3" r="3.3" fill="#000"/>
<circle cx="536.2" cy="307.1" r="3.3" fill="#000"/>
<circle cx="541.1" cy="321.9" r="3.3" fill="#000"/>
<circle cx="546.1" cy="336.6" r="3.3" fill="#000"/>
<circle cx="551" cy="348.6" r="3.3" fill="#000"/>
<circle cx="555.9" cy="359" r="3.3" fill="#000"/>
<circle cx="561" cy="366.7" r="3.3" fill="#000"/>
<circle cx="566.1" cy="373" r="3.3" fill="#000"/>
<circle cx="571.2" cy="378.1" r="3.3" fill="#000"/>
<circle cx="576.5" cy="381.3" r="3.3" fill="#000"/>
<circle cx="581.8" cy="383.8" r="3.3" fill="#000"/>
<circle cx="587" cy="384.4" r="3.3" fill="#000"/>
<circle cx="592.1" cy="384.7" r="3.3" fill="#000"/>
<circle cx="597.2" cy="384.7" r="3.3" fill="#000"/>
<circle cx="602.3" cy="384.7" r="3.3" fill="#000"/>
<circle cx="607.4" cy="384.7" r="3.3" fill="#000"/>
<circle cx="612.4" cy="384.4" r="3.3" fill="#000"/>
<circle cx="617.5" cy="383.8" r="3.3" fill="#000"/>
<circle cx="622.6" cy="383.2" r="3.3" fill="#000"/>
<circle cx="628" cy="381.6" r="3.3" fill="#000"/>
<circle cx="633.2" cy="380.6" r="3.3" fill="#000"/>
<circle cx="638.4" cy="380" r="3.3" fill="#000"/>
<circle cx="643.5" cy="379.4" r="3.3" fill="#000"/>
<circle cx="648.6" cy="377.8" r="3.3" fill="#000"/>
<circle cx="653.7" cy="377.5" r="3.3" fill="#000"/>
</g>
<line x1="399.7" y1="332.5" x2="404.9" y2="332.5" stroke="#8a8a8a" stroke-width="1"/>
<line x1="399.7" y1="264.2" x2="404.9" y2="264.2" stroke="#8a8a8a" stroke-width="1"/>
<line x1="399.7" y1="215.8" x2="404.9" y2="215.8" stroke="#8a8a8a" stroke-width="1"/>
<line x1="395.1" y1="178.2" x2="404.9" y2="178.2" stroke="#555555" stroke-width="1"/>
<text x="394.2" y="182.5" font-size="12" text-anchor="end" textLength="23.4" lengthAdjust="spacingAndGlyphs" class="k">500</text>
<line x1="399.7" y1="147.6" x2="404.9" y2="147.6" stroke="#8a8a8a" stroke-width="1"/>
<line x1="399.7" y1="121.6" x2="404.9" y2="121.6" stroke="#8a8a8a" stroke-width="1"/>
<line x1="399.7" y1="99.2" x2="404.9" y2="99.2" stroke="#8a8a8a" stroke-width="1"/>
<line x1="399.7" y1="79.3" x2="404.9" y2="79.3" stroke="#8a8a8a" stroke-width="1"/>
<line x1="395.1" y1="61.6" x2="404.9" y2="61.6" stroke="#555555" stroke-width="1"/>
<text x="394.2" y="65.9" font-size="12" text-anchor="end" textLength="31.3" lengthAdjust="spacingAndGlyphs" class="k">1000</text>
<line x1="405" y1="405.2" x2="405" y2="410" stroke="#8a8a8a" stroke-width="1"/>
<line x1="407.3" y1="405.2" x2="407.3" y2="415" stroke="#555555" stroke-width="1"/>
<text x="407.3" y="424.4" font-size="12" text-anchor="middle" textLength="19.3" lengthAdjust="spacingAndGlyphs" class="k">0.1</text>
<line x1="425.8" y1="405.2" x2="425.8" y2="410" stroke="#8a8a8a" stroke-width="1"/>
<line x1="438.9" y1="405.2" x2="438.9" y2="415" stroke="#555555" stroke-width="1"/>
<text x="438.9" y="424.4" font-size="12" text-anchor="middle" textLength="19.3" lengthAdjust="spacingAndGlyphs" class="k">0.2</text>
<line x1="449.1" y1="405.2" x2="449.1" y2="410" stroke="#8a8a8a" stroke-width="1"/>
<line x1="457.4" y1="405.2" x2="457.4" y2="410" stroke="#8a8a8a" stroke-width="1"/>
<line x1="464.5" y1="405.2" x2="464.5" y2="410" stroke="#8a8a8a" stroke-width="1"/>
<line x1="470.6" y1="405.2" x2="470.6" y2="415" stroke="#555555" stroke-width="1"/>
<text x="470.6" y="424.4" font-size="12" text-anchor="middle" textLength="19.3" lengthAdjust="spacingAndGlyphs" class="k">0.4</text>
<line x1="476" y1="405.2" x2="476" y2="410" stroke="#8a8a8a" stroke-width="1"/>
<line x1="480.8" y1="405.2" x2="480.8" y2="410" stroke="#8a8a8a" stroke-width="1"/>
<line x1="485.1" y1="405.2" x2="485.1" y2="410" stroke="#8a8a8a" stroke-width="1"/>
<line x1="489.1" y1="405.2" x2="489.1" y2="415" stroke="#555555" stroke-width="1"/>
<text x="489.1" y="424.4" font-size="12" text-anchor="middle" textLength="19.3" lengthAdjust="spacingAndGlyphs" class="k">0.6</text>
<line x1="492.7" y1="405.2" x2="492.7" y2="410" stroke="#8a8a8a" stroke-width="1"/>
<line x1="496.1" y1="405.2" x2="496.1" y2="410" stroke="#8a8a8a" stroke-width="1"/>
<line x1="499.3" y1="405.2" x2="499.3" y2="410" stroke="#8a8a8a" stroke-width="1"/>
<line x1="502.2" y1="405.2" x2="502.2" y2="415" stroke="#555555" stroke-width="1"/>
<text x="502.2" y="424.4" font-size="12" text-anchor="middle" textLength="19.3" lengthAdjust="spacingAndGlyphs" class="k">0.8</text>
<line x1="505" y1="405.2" x2="505" y2="410" stroke="#8a8a8a" stroke-width="1"/>
<line x1="507.6" y1="405.2" x2="507.6" y2="410" stroke="#8a8a8a" stroke-width="1"/>
<line x1="510.1" y1="405.2" x2="510.1" y2="410" stroke="#8a8a8a" stroke-width="1"/>
<line x1="512.4" y1="405.2" x2="512.4" y2="415" stroke="#555555" stroke-width="1"/>
<text x="512.4" y="424.4" font-size="12" text-anchor="middle" textLength="7.6" lengthAdjust="spacingAndGlyphs" class="k">1</text>
<line x1="530.9" y1="405.2" x2="530.9" y2="410" stroke="#8a8a8a" stroke-width="1"/>
<line x1="544" y1="405.2" x2="544" y2="415" stroke="#555555" stroke-width="1"/>
<text x="544" y="424.4" font-size="12" text-anchor="middle" textLength="7.6" lengthAdjust="spacingAndGlyphs" class="k">2</text>
<line x1="554.2" y1="405.2" x2="554.2" y2="410" stroke="#8a8a8a" stroke-width="1"/>
<line x1="562.5" y1="405.2" x2="562.5" y2="410" stroke="#8a8a8a" stroke-width="1"/>
<line x1="569.6" y1="405.2" x2="569.6" y2="410" stroke="#8a8a8a" stroke-width="1"/>
<line x1="575.7" y1="405.2" x2="575.7" y2="415" stroke="#555555" stroke-width="1"/>
<text x="575.7" y="424.4" font-size="12" text-anchor="middle" textLength="7.6" lengthAdjust="spacingAndGlyphs" class="k">4</text>
<line x1="581.1" y1="405.2" x2="581.1" y2="410" stroke="#8a8a8a" stroke-width="1"/>
<line x1="585.9" y1="405.2" x2="585.9" y2="410" stroke="#8a8a8a" stroke-width="1"/>
<line x1="590.2" y1="405.2" x2="590.2" y2="410" stroke="#8a8a8a" stroke-width="1"/>
<line x1="594.2" y1="405.2" x2="594.2" y2="415" stroke="#555555" stroke-width="1"/>
<text x="594.2" y="424.4" font-size="12" text-anchor="middle" textLength="7.6" lengthAdjust="spacingAndGlyphs" class="k">6</text>
<line x1="597.8" y1="405.2" x2="597.8" y2="410" stroke="#8a8a8a" stroke-width="1"/>
<line x1="601.2" y1="405.2" x2="601.2" y2="410" stroke="#8a8a8a" stroke-width="1"/>
<line x1="604.4" y1="405.2" x2="604.4" y2="410" stroke="#8a8a8a" stroke-width="1"/>
<line x1="607.3" y1="405.2" x2="607.3" y2="415" stroke="#555555" stroke-width="1"/>
<text x="607.3" y="424.4" font-size="12" text-anchor="middle" textLength="7.6" lengthAdjust="spacingAndGlyphs" class="k">8</text>
<line x1="610.1" y1="405.2" x2="610.1" y2="410" stroke="#8a8a8a" stroke-width="1"/>
<line x1="612.7" y1="405.2" x2="612.7" y2="410" stroke="#8a8a8a" stroke-width="1"/>
<line x1="615.2" y1="405.2" x2="615.2" y2="410" stroke="#8a8a8a" stroke-width="1"/>
<line x1="617.5" y1="405.2" x2="617.5" y2="415" stroke="#555555" stroke-width="1"/>
<text x="617.5" y="424.4" font-size="12" text-anchor="middle" textLength="15.5" lengthAdjust="spacingAndGlyphs" class="k">10</text>
<line x1="636" y1="405.2" x2="636" y2="410" stroke="#8a8a8a" stroke-width="1"/>
<line x1="649.1" y1="405.2" x2="649.1" y2="415" stroke="#555555" stroke-width="1"/>
<text x="649.1" y="424.4" font-size="12" text-anchor="middle" textLength="15.5" lengthAdjust="spacingAndGlyphs" class="k">20</text>
<line x1="659.3" y1="405.2" x2="659.3" y2="410" stroke="#8a8a8a" stroke-width="1"/>
<text x="533.2" y="439.6" font-size="12.2" text-anchor="middle" textLength="89" lengthAdjust="spacingAndGlyphs" class="t">Frequency (Hz)</text>
<g transform="translate(360.8,216.5) rotate(-90)"><text x="0" y="0" font-size="12.2" text-anchor="middle" textLength="81" lengthAdjust="spacingAndGlyphs" class="t">Velocity (m/s)</text></g>
<line x1="726.8" y1="26.2" x2="726.8" y2="402.5" stroke="#f5f5f5" stroke-width="1"/>
<line x1="729.3" y1="26.2" x2="729.3" y2="402.5" stroke="#eaeaea" stroke-width="1"/>
<line x1="748.9" y1="26.2" x2="748.9" y2="402.5" stroke="#f5f5f5" stroke-width="1"/>
<line x1="762.8" y1="26.2" x2="762.8" y2="402.5" stroke="#eaeaea" stroke-width="1"/>
<line x1="773.5" y1="26.2" x2="773.5" y2="402.5" stroke="#f5f5f5" stroke-width="1"/>
<line x1="782.3" y1="26.2" x2="782.3" y2="402.5" stroke="#f5f5f5" stroke-width="1"/>
<line x1="789.8" y1="26.2" x2="789.8" y2="402.5" stroke="#f5f5f5" stroke-width="1"/>
<line x1="796.2" y1="26.2" x2="796.2" y2="402.5" stroke="#eaeaea" stroke-width="1"/>
<line x1="801.9" y1="26.2" x2="801.9" y2="402.5" stroke="#f5f5f5" stroke-width="1"/>
<line x1="807" y1="26.2" x2="807" y2="402.5" stroke="#f5f5f5" stroke-width="1"/>
<line x1="811.6" y1="26.2" x2="811.6" y2="402.5" stroke="#f5f5f5" stroke-width="1"/>
<line x1="815.8" y1="26.2" x2="815.8" y2="402.5" stroke="#eaeaea" stroke-width="1"/>
<line x1="819.7" y1="26.2" x2="819.7" y2="402.5" stroke="#f5f5f5" stroke-width="1"/>
<line x1="823.2" y1="26.2" x2="823.2" y2="402.5" stroke="#f5f5f5" stroke-width="1"/>
<line x1="826.6" y1="26.2" x2="826.6" y2="402.5" stroke="#f5f5f5" stroke-width="1"/>
<line x1="829.7" y1="26.2" x2="829.7" y2="402.5" stroke="#eaeaea" stroke-width="1"/>
<line x1="832.6" y1="26.2" x2="832.6" y2="402.5" stroke="#f5f5f5" stroke-width="1"/>
<line x1="835.4" y1="26.2" x2="835.4" y2="402.5" stroke="#f5f5f5" stroke-width="1"/>
<line x1="838" y1="26.2" x2="838" y2="402.5" stroke="#f5f5f5" stroke-width="1"/>
<line x1="840.4" y1="26.2" x2="840.4" y2="402.5" stroke="#eaeaea" stroke-width="1"/>
<line x1="860" y1="26.2" x2="860" y2="402.5" stroke="#f5f5f5" stroke-width="1"/>
<line x1="873.9" y1="26.2" x2="873.9" y2="402.5" stroke="#eaeaea" stroke-width="1"/>
<line x1="884.7" y1="26.2" x2="884.7" y2="402.5" stroke="#f5f5f5" stroke-width="1"/>
<line x1="893.5" y1="26.2" x2="893.5" y2="402.5" stroke="#f5f5f5" stroke-width="1"/>
<line x1="900.9" y1="26.2" x2="900.9" y2="402.5" stroke="#f5f5f5" stroke-width="1"/>
<line x1="907.4" y1="26.2" x2="907.4" y2="402.5" stroke="#eaeaea" stroke-width="1"/>
<line x1="913.1" y1="26.2" x2="913.1" y2="402.5" stroke="#f5f5f5" stroke-width="1"/>
<line x1="918.1" y1="26.2" x2="918.1" y2="402.5" stroke="#f5f5f5" stroke-width="1"/>
<line x1="922.7" y1="26.2" x2="922.7" y2="402.5" stroke="#f5f5f5" stroke-width="1"/>
<line x1="926.9" y1="26.2" x2="926.9" y2="402.5" stroke="#eaeaea" stroke-width="1"/>
<line x1="930.8" y1="26.2" x2="930.8" y2="402.5" stroke="#f5f5f5" stroke-width="1"/>
<line x1="934.4" y1="26.2" x2="934.4" y2="402.5" stroke="#f5f5f5" stroke-width="1"/>
<line x1="937.7" y1="26.2" x2="937.7" y2="402.5" stroke="#f5f5f5" stroke-width="1"/>
<line x1="940.8" y1="26.2" x2="940.8" y2="402.5" stroke="#eaeaea" stroke-width="1"/>
<line x1="943.8" y1="26.2" x2="943.8" y2="402.5" stroke="#f5f5f5" stroke-width="1"/>
<line x1="946.5" y1="26.2" x2="946.5" y2="402.5" stroke="#f5f5f5" stroke-width="1"/>
<line x1="949.1" y1="26.2" x2="949.1" y2="402.5" stroke="#f5f5f5" stroke-width="1"/>
<line x1="951.6" y1="26.2" x2="951.6" y2="402.5" stroke="#eaeaea" stroke-width="1"/>
<line x1="971.2" y1="26.2" x2="971.2" y2="402.5" stroke="#f5f5f5" stroke-width="1"/>
<line x1="985.1" y1="26.2" x2="985.1" y2="402.5" stroke="#eaeaea" stroke-width="1"/>
<line x1="995.8" y1="26.2" x2="995.8" y2="402.5" stroke="#f5f5f5" stroke-width="1"/>
<line x1="726.6" y1="402.4" x2="998" y2="402.4" stroke="#eaeaea" stroke-width="1"/>
<line x1="726.6" y1="385.7" x2="998" y2="385.7" stroke="#f5f5f5" stroke-width="1"/>
<line x1="726.6" y1="369" x2="998" y2="369" stroke="#f5f5f5" stroke-width="1"/>
<line x1="726.6" y1="352.2" x2="998" y2="352.2" stroke="#f5f5f5" stroke-width="1"/>
<line x1="726.6" y1="335.5" x2="998" y2="335.5" stroke="#f5f5f5" stroke-width="1"/>
<line x1="726.6" y1="318.8" x2="998" y2="318.8" stroke="#eaeaea" stroke-width="1"/>
<line x1="726.6" y1="302.1" x2="998" y2="302.1" stroke="#f5f5f5" stroke-width="1"/>
<line x1="726.6" y1="285.4" x2="998" y2="285.4" stroke="#f5f5f5" stroke-width="1"/>
<line x1="726.6" y1="268.6" x2="998" y2="268.6" stroke="#f5f5f5" stroke-width="1"/>
<line x1="726.6" y1="251.9" x2="998" y2="251.9" stroke="#f5f5f5" stroke-width="1"/>
<line x1="726.6" y1="235.2" x2="998" y2="235.2" stroke="#eaeaea" stroke-width="1"/>
<line x1="726.6" y1="218.5" x2="998" y2="218.5" stroke="#f5f5f5" stroke-width="1"/>
<line x1="726.6" y1="201.8" x2="998" y2="201.8" stroke="#f5f5f5" stroke-width="1"/>
<line x1="726.6" y1="185" x2="998" y2="185" stroke="#f5f5f5" stroke-width="1"/>
<line x1="726.6" y1="168.3" x2="998" y2="168.3" stroke="#f5f5f5" stroke-width="1"/>
<line x1="726.6" y1="151.6" x2="998" y2="151.6" stroke="#eaeaea" stroke-width="1"/>
<line x1="726.6" y1="134.9" x2="998" y2="134.9" stroke="#f5f5f5" stroke-width="1"/>
<line x1="726.6" y1="118.2" x2="998" y2="118.2" stroke="#f5f5f5" stroke-width="1"/>
<line x1="726.6" y1="101.4" x2="998" y2="101.4" stroke="#f5f5f5" stroke-width="1"/>
<line x1="726.6" y1="84.7" x2="998" y2="84.7" stroke="#f5f5f5" stroke-width="1"/>
<line x1="726.6" y1="68" x2="998" y2="68" stroke="#eaeaea" stroke-width="1"/>
<line x1="726.6" y1="51.3" x2="998" y2="51.3" stroke="#f5f5f5" stroke-width="1"/>
<line x1="726.6" y1="34.6" x2="998" y2="34.6" stroke="#f5f5f5" stroke-width="1"/>
<clipPath id="c3"><rect x="726.6" y="26.2" width="271.4" height="376.3"/></clipPath><g clip-path="url(#c3)">
<polygon points="726.5,259 750.4,245.9 763,236.3 775.8,223 788.5,204 793.1,196 800,183.3 805.4,161.9 808.7,138 812,120 816,95 820,62 823,42 825,31 827,26.2 842.6,26.2 843.7,38 845.9,50 847,70 847.5,83 849,105 849.8,117.6 854.1,125 857.2,138 857.9,143.8 859.4,160 862.1,183.8 867.3,211.7 876.2,237.1 887,241.6 897.1,233.3 906,229.3 916.2,229.3 926.3,232.7 932.7,235.5 941.6,235.2 970,235.4 978,235.8 998.2,240.2 998.2,299 967,305.9 956.8,307.1 953,311 946.6,312.2 941.6,307.1 934,305.9 921.3,311 917.4,315 913.6,322 908.6,327.7 902.2,335.3 899.7,345.5 894.6,349.3 890.8,372 888.7,383.4 886.6,384.8 883.8,402.5 878.2,402.5 878.2,400.3 873.9,398.2 871.1,396.8 867.6,394.6 867.3,381 862.9,378.5 860.3,345.5 856.5,341.7 855.2,315 854.5,302 852,283 850,267.9 824,268 813.9,269.1 726.5,280.5" fill="#aa0000" />
<path d="M827.9,38C827.6,40.8 826.8,48 826,55C825.2,62 823.5,75.8 823,80" fill="none" stroke="#fff" stroke-width="1.1" stroke-linecap="butt" stroke-linejoin="round" />
<path d="M823,80C822.5,83.3 821,92.5 820,100C819,107.5 818,117.7 817,125C816,132.3 815.1,137 813.7,143.8C812.3,150.6 809.5,162.3 808.6,166" fill="none" stroke="#fff" stroke-width="2" stroke-linecap="butt" stroke-linejoin="round" />
<path d="M831.9,54C831.7,56.3 831.1,63.3 830.8,68C830.4,72.7 830.2,78 829.8,82C829.4,86 828.9,88.8 828.5,92C828.1,95.2 827.5,99.9 827.3,101.5" fill="none" stroke="#fff" stroke-width="1.2" stroke-linecap="butt" stroke-linejoin="round" />
<path d="M834.8,29C834.8,30.2 834.9,34.8 834.9,36" fill="none" stroke="#fff" stroke-width="0.8" stroke-linecap="butt" stroke-linejoin="round" />
<path d="M838.5,54C838.8,56 839.5,62 840,66C840.5,70 841.2,76 841.5,78" fill="none" stroke="#fff" stroke-width="0.8" stroke-linecap="butt" stroke-linejoin="round" />
<polygon points="834.3,100 829.5,121 838.3,121.5" fill="#fff" />
<polygon points="835,81 835.9,81 840,97.5 836.8,98.2" fill="#fff" />
<path d="M942,302 L947.5,306.5 L946.8,307.3 L941.3,302.8Z M954,302.5 l2.5,0.5 l-0.2,1 l-2.5,-0.5Z" fill="#fff"/>
<path d="M726.5,259.8C730.5,257.6 744.3,250.5 750.4,246.8C756.5,243.1 758.8,241.1 763,237.4C767.2,233.7 771.5,229.7 775.8,224.4C780,219.1 785.5,210.4 788.5,205.8C791.5,201.2 791.9,200.7 794,197C796.1,193.3 798.9,188.7 801,183.5C803.1,178.3 804.8,171.2 806.5,166C808.2,160.8 809.4,156 811,152C812.6,148 814.2,146.3 816,142C817.8,137.7 820.2,131 822,126C823.8,121 825.4,116.2 827,112C828.6,107.8 830.3,103.4 831.5,101C832.7,98.6 833.3,97.7 834.2,97.7C835.1,97.7 836.1,99 837,101C837.9,103 838.7,106.5 839.5,110C840.3,113.5 840.9,119.2 842,122C843.1,124.8 844.4,124.8 846,127C847.6,129.2 850.3,132.2 851.6,135C852.9,137.8 853,138.4 853.9,143.8C854.8,149.2 856,160.7 857,167.2C858,173.7 858.6,175.6 859.7,183C860.8,190.4 861.7,202.7 863.5,211.7C865.3,220.7 868.9,230.7 870.5,237.1C872.1,243.5 872,247.3 873,250C874,252.7 873.3,253 876.3,253C879.3,253 886.3,251.2 890.8,249.8C895.3,248.4 899.3,246.4 903.5,244.7C907.7,243 912,240.6 916.2,239.7C920.4,238.8 924.7,238.6 928.9,239C933.1,239.4 938.4,241.4 941.6,242.2C944.8,242.9 943.2,243.5 947.9,243.5C952.6,243.5 961.6,241.9 970,242.2C978.4,242.5 993.5,244.8 998.2,245.3L998.2,294.2C993.5,294.4 978.7,295 970,295.5C961.3,296 952.7,295.9 946,297C939.3,298.1 934.3,300.1 930,302C925.7,303.9 922.9,306.3 920,308.5C917.1,310.7 914.7,312.2 912.4,315C910.1,317.8 908.8,321.8 906,325.2C903.2,328.6 898,331.3 895.9,335.3C893.8,339.3 894.6,345.3 893.3,349.3C892,353.3 889.7,354.6 888.2,359.4C886.7,364.2 885.7,374.8 884.4,378C883.1,381.2 882.3,380.5 880.6,378.5C878.9,376.5 876.2,371.3 874.3,365.8C872.4,360.3 871.1,354 869.2,345.5C867.3,337 864.8,322.9 862.9,315C861,307.1 859.5,304.7 858,298C856.5,291.3 855,281.7 854,275C853,268.3 852.7,263 852,258C851.3,253 851,247.9 850,245C849,242.1 848.6,241.5 846,240.8C843.4,240.1 837.5,240.4 834.2,240.8C830.9,241.2 829.4,242.3 826,243.3C822.6,244.3 818,245.5 813.9,246.9C809.8,248.3 805.4,250.1 801.2,252C797,253.9 792.7,256.3 788.5,258.3C784.3,260.3 782.1,261.8 775.8,264C769.4,266.2 758.6,269.7 750.4,271.7C742.2,273.7 730.5,275.4 726.5,276.1Z" fill="#c65500" stroke="#c65500" stroke-width="0.6"/>
<polygon points="834.3,103.5 830.6,120.3 837.6,121" fill="#fff" />
<path d="M806,181C807.2,178.3 811.6,169.3 813.5,165C815.4,160.7 816,158.5 817.5,155C819,151.5 820.8,147.5 822.2,143.8C823.6,140.1 824.8,136.3 826,133C827.2,129.7 828.6,126.1 829.5,124C830.4,121.9 830.9,120.7 831.6,120.3C832.4,119.9 832.9,120.5 834,121.5C835.1,122.5 836.7,124.4 838,126C839.3,127.6 840.7,129.3 842,131C843.3,132.7 845.3,135.2 846,136L838,126C837.3,126.8 835.2,128.7 834,130.5C832.8,132.3 831.8,134.5 830.5,137C829.2,139.5 828.1,142.5 826.5,145.5C824.9,148.5 822.8,151.8 821,155C819.2,158.2 818.1,160.7 815.8,165C813.5,169.3 808.5,178.3 807,181Z" fill="#bd3900" stroke="#bd3900" stroke-width="0.6"/>
<path d="M726.5,260.2C730.5,258 744.3,251 750.4,247.2C756.5,243.4 758.8,241.4 763,237.6C767.2,233.8 771.5,229.8 775.8,224.4C780,219.1 785.6,210 788.5,205.5C791.4,201 791.2,200.9 793.1,197.5C795,194.1 798,189.9 800,185C802,180.1 804.2,170.8 805,168" fill="none" stroke="#bd3900" stroke-width="2.4" stroke-linecap="butt" stroke-linejoin="round" />
<path d="M726.5,261.5C730.5,259.4 744.3,252.3 750.4,248.6C756.5,244.9 758.8,242.9 763,239.2C767.2,235.5 771.5,231.6 775.8,226.4C780,221.2 785.1,213.3 788.5,208.2C791.9,203.1 793.6,199.9 796,195.7C798.4,191.5 800.8,186.6 803,183C805.2,179.4 806.9,177 809,174C811.1,171 813.8,168.2 815.8,165C817.8,161.8 818.9,158.5 821,155C823.1,151.5 826.5,147.5 828.5,143.8C830.5,140.1 831.4,136 833,133C834.6,130 836.5,126.3 838,126C839.5,125.7 840.8,129 842,131C843.2,133 844.2,135.9 845.5,138C846.8,140.1 847.9,138.9 849.5,143.8C851.1,148.7 853.5,160.7 854.9,167.2C856.3,173.7 856.6,175.6 858,183C859.4,190.4 861.7,202.7 863.5,211.7C865.3,220.7 867.2,230.7 868.6,237.1C870,243.5 870.7,246.4 872,250C873.3,253.6 874.6,257.6 876.3,258.6C878,259.6 879.6,257 882,256C884.4,255 887.2,254.1 890.8,252.5C894.4,250.9 899.3,248.2 903.5,246.5C907.7,244.8 912,242.8 916.2,242C920.4,241.2 924.7,241.2 928.9,241.5C933.1,241.8 934.8,243.3 941.6,244C948.5,244.7 960.6,244.7 970,245.5C979.4,246.3 993.5,248.5 998.2,249.1L998.2,285.3C993.5,285.5 978.7,286 970,286.5C961.3,287 952.7,286.8 946,288.5C939.3,290.2 934.3,294.7 930,297C925.7,299.3 923,300.7 920,302.5C917,304.3 914.3,305.9 912,308C909.7,310.1 908,312 906,315C904,318 901.8,322.5 900,326C898.2,329.5 896.7,332.5 895,336C893.3,339.5 891.5,343.5 890,347C888.5,350.5 887.6,354 886,357C884.4,360 882.3,365.2 880.6,365C878.9,364.8 877.5,359.8 876,356C874.5,352.2 873.2,348.8 871.5,342C869.8,335.2 867.3,322.3 865.5,315C863.7,307.7 862.1,304.7 860.5,298C858.9,291.3 857.2,282.3 856,275C854.8,267.7 854,259.7 853,254C852,248.3 851.2,243.9 850,241C848.8,238.1 848.6,237.4 846,236.5C843.4,235.6 837.5,235.4 834.2,235.6C830.9,235.8 829.4,236.2 826,237.5C822.6,238.8 818,241.3 813.9,243.5C809.8,245.7 805.4,248.2 801.2,250.5C797,252.8 792.7,255.2 788.5,257.4C784.3,259.5 782.1,261 775.8,263.4C769.4,265.8 758.6,269.4 750.4,271.5C742.2,273.6 730.5,275.3 726.5,276.1Z" fill="#e3aa00" stroke="#e3aa00" stroke-width="0.6"/>
<path d="M906,315C907,313.8 909.7,310.1 912,308C914.3,305.9 917,304.3 920,302.5C923,300.7 925.7,299.3 930,297C934.3,294.7 939.3,290.2 946,288.5C952.7,286.8 961.3,287 970,286.5C978.7,286 993.5,285.5 998.2,285.3L998.2,289.7C993.5,289.9 978.7,290.4 970,290.9C961.3,291.4 952.7,291 946,292.5C939.3,294 934.2,297.7 930,299.8C925.8,301.9 923.7,303.2 921,305C918.3,306.8 916,308.8 914,310.5C912,312.2 909.8,314.2 909,315Z" fill="#d98e00" stroke="#d98e00" stroke-width="0.6"/>
<path d="M862.9,315C864,320.1 867.3,337 869.2,345.5C871.1,354 872.4,360.3 874.3,365.8C876.2,371.3 879.5,376.4 880.6,378.5L880.6,365C879.8,363.5 877.5,359.8 876,356C874.5,352.2 873.2,348.8 871.5,342C869.8,335.2 866.5,319.5 865.5,315Z" fill="#d07100" stroke="#d07100" stroke-width="0.6"/>
<path d="M880.6,365C881.5,363.7 884.4,360 886,357C887.6,354 888.5,350.5 890,347C891.5,343.5 893.3,339.5 895,336C896.7,332.5 898.2,329.5 900,326C901.8,322.5 905,316.8 906,315L912.4,315C911.3,316.7 908.8,321.8 906,325.2C903.2,328.6 898,331.3 895.9,335.3C893.8,339.3 894.6,345.3 893.3,349.3C892,353.3 889.7,354.6 888.2,359.4C886.7,364.2 885.7,374.8 884.4,378C883.1,381.2 881.2,378.4 880.6,378.5Z" fill="#d07100" stroke="#d07100" stroke-width="0.6"/>
<path d="M726.5,261.7C730.5,259.6 744.3,252.6 750.4,248.9C756.5,245.2 758.8,243.2 763,239.5C767.2,235.8 771.5,231.9 775.8,226.8C780,221.7 785.1,213.7 788.5,208.7C791.9,203.7 793.6,200.6 796,196.6C798.4,192.6 800.6,188.3 803,184.8C805.4,181.3 808,178.6 810.5,175.5C813,172.4 815.6,169.2 817.8,166C820,162.8 821.3,159.5 823.5,156C825.7,152.5 829,148.3 830.8,145C832.6,141.7 833.3,138.4 834.5,136C835.7,133.6 836.8,130.6 838,130.3C839.2,130 840.2,132.3 841.5,134C842.8,135.7 844.4,138.7 845.5,140.5C846.6,142.3 847,140.6 848.3,145C849.6,149.4 851.8,160.9 853.2,167.2C854.6,173.5 855.3,175.6 856.9,183C858.5,190.4 860.6,202.7 862.6,211.7C864.6,220.7 867.5,230.7 868.9,237.1C870.3,243.5 869.9,246.1 871,250C872.1,253.9 874,259.2 875.8,260.5C877.6,261.8 879.5,258.6 882,257.5C884.5,256.4 887.2,255.6 890.8,254C894.4,252.4 899.3,249.8 903.5,248C907.7,246.2 912,244.3 916.2,243.5C920.4,242.7 924.7,242.7 928.9,243C933.1,243.3 934.8,244.8 941.6,245.5C948.5,246.2 960.6,246.2 970,247C979.4,247.8 993.5,249.7 998.2,250.2L998.2,280.9C993.5,281.1 977.3,281.6 970,282C962.7,282.4 959,282.5 954.3,283.1C949.6,283.7 945.8,284.3 941.6,285.7C937.4,287.1 933.1,289.5 928.9,291.6C924.7,293.7 920.6,296.1 916.2,298.2C911.9,300.3 905.8,300.9 902.8,304C899.8,307.1 899.6,312.8 898.3,316.5C897,320.2 896.2,322.9 895,326C893.8,329.1 892.3,332 891,335C889.7,338 888.7,340.8 887,344C885.3,347.2 882.5,353.7 880.6,354C878.7,354.3 877.2,349.7 875.5,346C873.8,342.3 872,337.2 870.5,332C869,326.8 867.7,321.7 866.2,315C864.7,308.3 863,299.5 861.5,292C860,284.5 858.8,276.7 857.5,270C856.2,263.3 855.1,257.3 854,252C852.9,246.7 852.3,241.2 851,238C849.7,234.8 847.8,233.8 846,232.5C844.2,231.2 842,230.2 840,230C838,229.8 836.5,230.2 834.2,231C831.9,231.8 829.4,232.7 826,234.5C822.6,236.3 818,239.2 813.9,241.8C809.8,244.4 805.4,247.3 801.2,249.8C797,252.3 792.7,254.8 788.5,257C784.3,259.2 782.1,260.7 775.8,263.1C769.4,265.5 758.6,269.2 750.4,271.4C742.2,273.5 730.5,275.2 726.5,276Z" fill="#ecc600" stroke="#ecc600" stroke-width="0.6"/>
<path d="M726.5,261.8C730.5,259.7 744.3,252.8 750.4,249.1C756.5,245.4 758.8,243.5 763,239.9C767.2,236.3 771.5,232.4 775.8,227.3C780,222.2 785.1,214.5 788.5,209.5C791.9,204.5 793.6,201.4 796,197.5C798.4,193.6 800.5,189.4 803,186C805.5,182.6 808.2,180.2 811,177C813.8,173.8 817,170.3 819.5,167C822,163.7 823.8,160.9 826,157C828.2,153.1 831.3,146.7 833,143.8C834.7,140.9 835.2,140.5 836,139.5C836.8,138.5 837.1,137.9 838,137.8C838.9,137.7 840.3,138.2 841.5,138.8C842.7,139.4 844,140.6 845,141.5C846,142.4 846.2,140.8 847.5,144.5C848.8,148.2 851.4,157.4 852.9,164C854.4,170.6 855,175.9 856.5,183.8C858,191.8 860.5,203.7 862.2,211.7C864,219.7 865.8,226.4 867,232C868.2,237.6 868.4,241.3 869.2,245C870,248.7 871,251.2 872,254C873,256.8 873.8,261.1 875.5,262C877.2,262.9 879.8,260.4 882,259.5C884.2,258.6 885.7,258 889,256.5C892.3,255 896.4,252.3 901.7,250.5C907,248.7 913.4,246.1 920.8,245.5C928.2,244.9 937.8,246.7 946,247.2C954.2,247.7 961.3,247.9 970,248.5C978.7,249.1 993.5,250.6 998.2,251L998.2,280.4C993.5,280.6 977.3,281.1 970,281.4C962.7,281.7 959,281.7 954.3,282.3C949.6,282.9 945.8,283.4 941.6,284.8C937.4,286.2 933.1,288.5 928.9,290.5C924.7,292.5 920.7,295 916.2,297C911.8,299 905.4,299.5 902.2,302.5C899,305.5 898.5,310.8 897,315C895.5,319.2 894.8,323.5 893.3,327.7C891.8,331.9 890.3,336.6 888.2,340.4C886.1,344.2 882.9,350.5 880.6,350.5C878.3,350.5 876.2,344.2 874.3,340.4C872.4,336.6 870.5,332.4 869.2,327.7C867.9,323 867.8,319.1 866.7,312C865.6,304.9 863.9,293.3 862.5,285C861.1,276.7 859.6,268.3 858.5,262C857.4,255.7 856.9,250.8 856,247C855.1,243.2 854.5,241.9 853.4,239.5C852.3,237.1 851,234.5 849.4,232.4C847.8,230.3 845.9,227.7 843.9,226.8C841.9,225.9 839.9,226.3 837.5,226.9C835.1,227.5 832.2,228.8 829.6,230.2C827,231.5 824.3,233.3 821.7,235C819.1,236.7 816.4,238.4 813.8,240.3C811.1,242.2 807.9,245.1 805.8,246.6C803.7,248.1 804.1,247.9 801.2,249.6C798.3,251.2 792.7,254.3 788.5,256.5C784.3,258.7 782.1,260.3 775.8,262.8C769.4,265.3 758.6,269.1 750.4,271.3C742.2,273.5 730.5,275.2 726.5,276Z" fill="#ffff00" stroke="#ffff00" stroke-width="0.6"/>
<path d="M726.5,262C730.5,259.9 744.3,252.9 750.4,249.2C756.5,245.5 758.8,243.6 763,240C767.2,236.4 771.5,232.5 775.8,227.5C780,222.5 785.1,214.7 788.5,209.8C791.9,204.9 793.6,201.8 796,197.9C798.4,194 800.5,189.8 803,186.5C805.5,183.2 808.2,181 811,177.8C813.8,174.7 817.2,170.9 819.8,167.6C822.4,164.3 824.2,161.7 826.5,157.8C828.8,154 832,147.2 833.6,144.5C835.2,141.8 835.3,142.4 836,141.8C836.7,141.2 837.2,141 838,141C838.8,141 839.6,141.4 840.5,142C841.4,142.6 842.6,143.4 843.5,144.5C844.4,145.6 845,145.9 846,148.5C847,151.1 848.9,156.9 849.8,160C850.7,163.1 850.7,163.2 851.3,167.2C851.9,171.2 852.3,176.4 853.6,183.8C854.9,191.2 857.2,203.7 859,211.7C860.8,219.7 863.2,226.4 864.5,232C865.8,237.6 865.7,241 866.5,245C867.3,249 868.4,252.5 869.5,256C870.6,259.5 871.9,263.7 873,266C874.1,268.3 874.5,270.3 876,270C877.5,269.7 879.8,265.8 882,264C884.2,262.2 885.7,261.4 889,259.5C892.3,257.6 896.4,255 901.7,252.8C907,250.6 913.4,247.4 920.8,246.5C928.2,245.6 937.8,247.1 946,247.4C954.2,247.8 961.3,248 970,248.6C978.7,249.2 993.5,250.7 998.2,251.1L998.2,280.3C993.5,280.4 977.3,281 970,281.2C962.7,281.4 959,281 954.3,281.4C949.6,281.8 945.8,282.4 941.6,283.8C937.4,285.2 933.1,287.5 928.9,289.5C924.7,291.5 920.8,293.9 916.2,296C911.6,298.1 904.8,299.1 901.5,302.3C898.2,305.5 897.7,311 896.3,315C894.9,319 894.3,322.8 893,326.5C891.7,330.2 890.7,333.8 888.6,337C886.5,340.2 883.4,345.8 880.6,345.8C877.8,345.8 874.2,340 872,337C869.8,334 868.3,331.9 867.2,327.7C866.1,323.5 866.2,319.1 865.2,312C864.2,304.9 862.4,293.3 861,285C859.6,276.7 858.1,268.3 857,262C855.9,255.7 855.3,251.2 854.5,247C853.7,242.8 853,240 852,237C851,234 849.9,231.2 848.5,229C847.1,226.8 845.7,224.7 843.9,223.8C842.1,223 839.9,223.3 837.5,223.9C835.1,224.5 832.2,225.8 829.6,227.2C827,228.5 824.3,230.3 821.7,232C819.1,233.7 816.4,235.5 813.8,237.5C811.1,239.5 807.9,242.4 805.8,244C803.7,245.6 804.1,245.4 801.2,247.2C798.3,248.9 792.7,252.2 788.5,254.5C784.3,256.8 782.1,258.4 775.8,261C769.4,263.6 758.6,267.6 750.4,270C742.2,272.4 730.5,274.3 726.5,275.2Z" fill="#dcb13c" stroke="#dcb13c" stroke-width="0.6"/>
<path d="M726.5,262C730.5,259.9 744.3,252.9 750.4,249.2C756.5,245.5 758.8,243.6 763,240C767.2,236.4 771.5,232.5 775.8,227.5C780,222.5 785.1,214.7 788.5,209.8C791.9,204.9 793.6,201.8 796,197.9C798.4,194 800.5,189.8 803,186.5C805.5,183.2 808.2,181 811,177.8C813.8,174.7 817.2,170.9 819.8,167.6C822.4,164.3 824.2,161.7 826.5,157.8C828.8,154 832,147.2 833.6,144.5C835.2,141.8 835.3,142.4 836,141.8C836.7,141.2 837.2,141 838,141C838.8,141 839.6,141.4 840.5,142C841.4,142.6 842.6,143.4 843.5,144.5C844.4,145.6 845,145.9 846,148.5C847,151.1 848.9,156.9 849.8,160C850.7,163.1 850.7,163.2 851.3,167.2C851.9,171.2 852.3,176.4 853.6,183.8C854.9,191.2 857.2,203.7 859,211.7C860.8,219.7 863.2,226.4 864.5,232C865.8,237.6 865.7,241 866.5,245C867.3,249 868.4,252.5 869.5,256C870.6,259.5 872.4,264.3 873,266L873,266C871.8,264.3 868,261.7 866,256C864,250.3 862.7,239.7 861,232C859.3,224.3 857.5,217 856,210C854.5,203 853.2,195.8 852,190C850.8,184.2 849.7,179.7 848.5,175C847.3,170.3 846.1,165.3 845,162C843.9,158.7 843.1,156.6 842,155C840.9,153.4 839.6,152.5 838.3,152.5C837,152.5 835.7,153.2 834,155C832.3,156.8 830,160 828,163C826,166 824,169.5 822,173C820,176.5 818,180.5 816,184C814,187.5 812.3,190.4 809.8,194C807.3,197.6 804.5,200.8 801,205.5C797.5,210.2 794.8,215.2 788.5,222C782.2,228.8 773.3,238.8 763,246C752.7,253.2 732.6,262.1 726.5,265.3Z" fill="#b98b65" stroke="#b98b65" stroke-width="0.6"/>
<path d="M775.8,228.5C777.9,225.6 785,215.9 788.5,211C792,206.1 794.2,202.8 797,199C799.8,195.2 802.5,191.3 805,188C807.5,184.7 809.7,182.2 812,179C814.3,175.8 816.7,172.3 819,169C821.3,165.7 823.8,162 826,159C828.2,156 830.3,152.8 832,151C833.7,149.2 835,148.7 836,148C837,147.3 837.5,147 838.3,147C839,147 839.7,147.2 840.5,148C841.3,148.8 842.1,150 843,152C843.9,154 844.8,156.5 845.8,160C846.8,163.5 848.5,170.8 849,173L848.5,175C848,173.2 846.4,166.9 845.5,164C844.6,161.1 843.8,159.2 843,157.5C842.2,155.8 841.3,154.3 840.5,153.5C839.7,152.7 839,152.5 838.3,152.5C837.5,152.5 837,152.7 836,153.5C835,154.3 833.6,155.6 832,157.5C830.4,159.4 828.5,162.2 826.5,165C824.5,167.8 822.2,170.8 820,174C817.8,177.2 815.3,180.8 813,184C810.7,187.2 808.5,189.8 806,193C803.5,196.2 800.9,199.8 798,203.5C795.1,207.2 792.2,210.2 788.5,215C784.8,219.8 777.9,229.2 775.8,232Z" fill="#ae866f" stroke="#ae866f" stroke-width="0.6"/>
<path d="M806,193C807.2,191.5 810.7,187.2 813,184C815.3,180.8 817.8,177.2 820,174C822.2,170.8 824.5,167.8 826.5,165C828.5,162.2 830.4,159.4 832,157.5C833.6,155.6 835,154.3 836,153.5C837,152.7 837.5,152.5 838.3,152.5C839,152.5 839.7,152.7 840.5,153.5C841.3,154.3 842.2,155.8 843,157.5C843.8,159.2 844.6,161.1 845.5,164C846.4,166.9 848,173.2 848.5,175L849,181C848.6,179.5 847.3,174.5 846.5,172C845.7,169.5 844.9,167.5 844,166C843.1,164.5 842,163.5 841,162.8C840,162.1 839.3,162.1 838.3,162C837.3,161.9 836.2,161.9 835,162.3C833.8,162.7 832.5,163.2 831,164.5C829.5,165.8 827.8,167.7 826,170C824.2,172.3 822.2,175.5 820,178.5C817.8,181.5 815.3,184.9 813,188C810.7,191.1 807.2,195.5 806,197Z" fill="#d1a04c" stroke="#d1a04c" stroke-width="0.6"/>
<path d="M831.5,166.2C832.1,165.6 833.9,163.3 835,162.6C836.1,161.9 837.3,162 838.3,162C839.3,162 840.2,162.2 841,162.8C841.8,163.4 842.7,165.1 843,165.5L843,166.2C842.7,166.2 841.8,166.4 841,166.3C840.2,166.2 839.3,165.5 838.3,165.5C837.3,165.5 836.1,166.1 835,166.3C833.9,166.5 832.1,166.6 831.5,166.6Z" fill="#ffff00" stroke="#ffff00" stroke-width="0.6"/>
<path d="M726.5,260.9C730.5,258.8 744.3,251.9 750.4,248.3C756.5,244.7 758.8,242.2 763,239.5C767.2,236.8 771.5,235.8 775.8,232C780,228.2 784.8,221.3 788.5,217C792.2,212.7 795.1,209.4 798,206C800.9,202.6 803.5,199.4 806,196.5C808.5,193.6 810.7,191.2 813,188.5C815.3,185.8 817.8,183 820,180.5C822.2,178 824.2,175.5 826,173.5C827.8,171.5 829.5,169.8 831,168.5C832.5,167.2 833.8,166.5 835,166C836.2,165.5 837.3,165.4 838.3,165.5C839.3,165.6 840.1,165.8 841,166.5C841.9,167.2 842.7,168.4 843.5,170C844.3,171.6 845.2,173.7 846,176C846.8,178.3 848.1,182.7 848.5,184L848.5,188C848.1,186.8 846.8,183.1 846,181C845.2,178.9 844.3,177 843.5,175.5C842.7,174 841.9,172.7 841,172C840.1,171.3 839.3,171.1 838.3,171.1C837.3,171.1 836.2,171.2 835,171.8C833.8,172.4 832.5,173.1 831,174.5C829.5,175.9 827.8,177.8 826,180C824.2,182.2 822.2,184.8 820,187.5C817.8,190.2 815.3,193.2 813,196C810.7,198.8 808.5,201.1 806,204C803.5,206.9 800.9,210.2 798,213.5C795.1,216.8 792.2,220 788.5,224C784.8,228 780,233.8 775.8,237.5C771.5,241.2 767.2,243.2 763,246C758.8,248.8 756.5,250.8 750.4,254C744.3,257.2 730.5,263.4 726.5,265.3Z" fill="#a28276" stroke="#a28276" stroke-width="0.6"/>
<path d="M832,174.6C832.5,174.1 834,172.4 835,171.8C836,171.2 837.3,171.1 838.3,171.1C839.3,171.1 840,171.3 841,172C842,172.7 843.5,174.8 844,175.3L844,175.7C843.5,175.6 842,175.2 841,175C840,174.8 839.3,174.3 838.3,174.3C837.3,174.3 836,175.1 835,175.2C834,175.3 832.5,175 832,175Z" fill="#ffff00" stroke="#ffff00" stroke-width="0.6"/>
<path d="M750.4,254C752.5,252.7 758.8,248.8 763,246C767.2,243.2 771.5,241.2 775.8,237.5C780,233.8 784.8,228 788.5,224C792.2,220 795.1,216.8 798,213.5C800.9,210.2 803.5,206.9 806,204C808.5,201.1 810.7,198.8 813,196C815.3,193.2 817.8,190 820,187.5C822.2,185 824.2,182.7 826,181C827.8,179.3 829.5,178.5 831,177.5C832.5,176.5 833.8,175.7 835,175.2C836.2,174.7 837.3,174.3 838.3,174.3C839.3,174.3 840.1,174.5 841,175.2C841.9,175.9 842.7,177 843.5,178.5C844.3,180 845.2,182.1 846,184C846.8,185.9 848.1,189 848.5,190L850,198C849.6,197 848.4,194 847.5,192C846.6,190 845.5,187.6 844.5,186C843.5,184.4 842.5,183.3 841.5,182.5C840.5,181.7 839.4,181.4 838.3,181.4C837.2,181.4 836.2,181.7 835,182.5C833.8,183.3 832.5,184.6 831,186C829.5,187.4 827.8,189 826,191C824.2,193 822.2,195.6 820,198C817.8,200.4 815.3,203.1 813,205.5C810.7,207.9 808.5,209.9 806,212.5C803.5,215.1 800.9,217.9 798,221C795.1,224.1 792.2,227.4 788.5,231C784.8,234.6 780,239.4 775.8,242.5C771.5,245.6 767.2,247.4 763,249.7C758.8,251.9 752.5,254.9 750.4,256Z" fill="#e8c52a" stroke="#e8c52a" stroke-width="0.6"/>
<path d="M763,249.7C765.1,248.5 771.5,245.6 775.8,242.5C780,239.4 784.8,234.6 788.5,231C792.2,227.4 795.1,224.1 798,221C800.9,217.9 803.5,215.1 806,212.5C808.5,209.9 810.7,207.9 813,205.5C815.3,203.1 817.8,200.4 820,198C822.2,195.6 824.2,193 826,191C827.8,189 829.5,187.4 831,186C832.5,184.6 833.8,183.3 835,182.5C836.2,181.7 837.2,181.4 838.3,181.4C839.4,181.4 840.5,181.7 841.5,182.5C842.5,183.3 843.5,184.4 844.5,186C845.5,187.6 846.6,190 847.5,192C848.4,194 849.6,197 850,198L850.5,205C850,203.8 848.5,200.2 847.5,198C846.5,195.8 845.5,193.5 844.5,192C843.5,190.5 842.5,189.5 841.5,188.8C840.5,188.1 839.4,187.7 838.3,187.7C837.2,187.7 836.2,188.2 835,188.8C833.8,189.4 832.5,190.3 831,191.5C829.5,192.7 827.8,194.2 826,196C824.2,197.8 822.2,199.8 820,202C817.8,204.2 815.3,206.8 813,209C810.7,211.2 808.5,213.1 806,215.5C803.5,217.9 800.9,220.6 798,223.5C795.1,226.4 792.2,229.7 788.5,233C784.8,236.3 780,240.6 775.8,243.5C771.5,246.4 765.1,249.1 763,250.2Z" fill="#dcb13c" stroke="#dcb13c" stroke-width="0.6"/>
<path d="M763,250.2C765.1,249.1 771.5,246.4 775.8,243.5C780,240.6 784.8,236.3 788.5,233C792.2,229.7 795.1,226.4 798,223.5C800.9,220.6 803.5,217.9 806,215.5C808.5,213.1 810.7,211.2 813,209C815.3,206.8 817.8,204.2 820,202C822.2,199.8 824.2,197.8 826,196C827.8,194.2 829.5,192.7 831,191.5C832.5,190.3 833.8,189.4 835,188.8C836.2,188.2 837.2,187.7 838.3,187.7C839.4,187.7 840.5,188.1 841.5,188.8C842.5,189.5 843.5,190.5 844.5,192C845.5,193.5 846.5,195.8 847.5,198C848.5,200.2 850,203.8 850.5,205L851,212C850.4,210.6 848.6,205.9 847.5,203.5C846.4,201.1 845.5,199.1 844.5,197.5C843.5,195.9 842.5,194.9 841.5,194.2C840.5,193.5 839.4,193.3 838.3,193.3C837.2,193.3 836.2,193.7 835,194.2C833.8,194.7 832.5,195.4 831,196.5C829.5,197.6 827.8,199 826,200.5C824.2,202 822.2,203.7 820,205.5C817.8,207.3 815.3,209.4 813,211.5C810.7,213.6 808.5,215.7 806,218C803.5,220.3 800.9,222.8 798,225.5C795.1,228.2 792.2,231.3 788.5,234.5C784.8,237.7 780,241.8 775.8,244.5C771.5,247.2 765.1,249.7 763,250.7Z" fill="#c5945a" stroke="#c5945a" stroke-width="0.6"/>
<path d="M726.5,265.3C730.5,263.8 744.3,258.9 750.4,256.5C756.5,254.1 758.8,252.7 763,250.7C767.2,248.7 771.5,247.2 775.8,244.5C780,241.8 784.8,237.7 788.5,234.5C792.2,231.3 795.1,228.2 798,225.5C800.9,222.8 803.5,220.3 806,218C808.5,215.7 810.7,213.6 813,211.5C815.3,209.4 817.8,207.3 820,205.5C822.2,203.7 824.2,202 826,200.5C827.8,199 829.5,197.6 831,196.5C832.5,195.4 833.8,194.7 835,194.2C836.2,193.7 837.2,193.3 838.3,193.3C839.4,193.3 840.5,193.5 841.5,194.2C842.5,194.9 843.5,195.9 844.5,197.5C845.5,199.1 846.4,201.1 847.5,203.5C848.6,205.9 850.4,210.6 851,212L851,219C850.4,217.6 848.6,212.9 847.5,210.5C846.4,208.1 845.5,206 844.5,204.5C843.5,203 842.5,202 841.5,201.3C840.5,200.6 839.4,200.4 838.3,200.4C837.2,200.4 836.2,200.8 835,201.3C833.8,201.8 832.5,202.5 831,203.5C829.5,204.5 827.8,206 826,207.5C824.2,209 822.2,210.7 820,212.5C817.8,214.3 815.3,216.3 813,218.5C810.7,220.7 808.5,223.1 806,225.5C803.5,227.9 800.9,230.3 798,233C795.1,235.7 792.2,238.6 788.5,241.5C784.8,244.4 780,247.9 775.8,250.5C771.5,253.1 767.2,255 763,257C758.8,259 756.5,260.1 750.4,262.5C744.3,264.9 730.5,270.2 726.5,271.7Z" fill="#808080" stroke="#808080" stroke-width="0.6"/>
<path d="M726.5,271.7C730.5,270.2 744.3,264.9 750.4,262.5C756.5,260.1 758.8,259 763,257C767.2,255 771.5,253.1 775.8,250.5C780,247.9 784.8,244.4 788.5,241.5C792.2,238.6 795.1,235.7 798,233C800.9,230.3 803.5,227.9 806,225.5C808.5,223.1 810.7,220.7 813,218.5C815.3,216.3 817.8,214.3 820,212.5C822.2,210.7 824.2,209 826,207.5C827.8,206 829.5,204.5 831,203.5C832.5,202.5 833.8,201.8 835,201.3C836.2,200.8 837.2,200.4 838.3,200.4C839.4,200.4 840.5,200.6 841.5,201.3C842.5,202 843.5,203 844.5,204.5C845.5,206 846.4,208.1 847.5,210.5C848.6,212.9 850.4,217.6 851,219L851,222C850.4,220.6 848.6,215.9 847.5,213.5C846.4,211.1 845.5,209 844.5,207.5C843.5,206 842.5,205 841.5,204.3C840.5,203.6 839.4,203.5 838.3,203.5C837.2,203.5 836.2,203.8 835,204.3C833.8,204.8 832.5,205.5 831,206.5C829.5,207.5 827.8,209 826,210.5C824.2,212 822.2,213.7 820,215.5C817.8,217.3 815.3,219.4 813,221.5C810.7,223.6 808.5,225.9 806,228.2C803.5,230.5 800.9,232.9 798,235.5C795.1,238.1 792.2,241 788.5,243.8C784.8,246.6 780,250 775.8,252.5C771.5,255 767.2,256.8 763,258.7C758.8,260.6 756.5,261.6 750.4,264C744.3,266.4 730.5,271.3 726.5,272.8Z" fill="#a28276" stroke="#a28276" stroke-width="0.6"/>
<path d="M726.5,272.8C730.5,271.3 744.3,266.4 750.4,264C756.5,261.6 758.8,260.6 763,258.7C767.2,256.8 771.5,255 775.8,252.5C780,250 784.8,246.6 788.5,243.8C792.2,241 795.1,238.1 798,235.5C800.9,232.9 803.5,230.5 806,228.2C808.5,225.9 810.7,223.6 813,221.5C815.3,219.4 817.8,217.3 820,215.5C822.2,213.7 824.2,212 826,210.5C827.8,209 829.5,207.5 831,206.5C832.5,205.5 833.8,204.8 835,204.3C836.2,203.8 837.2,203.5 838.3,203.5C839.4,203.5 840.5,203.6 841.5,204.3C842.5,205 843.5,206 844.5,207.5C845.5,209 846.4,211.1 847.5,213.5C848.6,215.9 850.4,220.6 851,222L857,256C856.5,253.3 855,244.3 854,240C853,235.7 852.1,232.8 851,230C849.9,227.2 848.6,224.9 847.5,223C846.4,221.1 845.5,219.6 844.5,218.5C843.5,217.4 842.5,216.8 841.5,216.3C840.5,215.9 839.4,215.8 838.3,215.8C837.2,215.8 836.2,216 835,216.3C833.8,216.6 832.5,217 831,217.8C829.5,218.6 827.8,219.7 826,221C824.2,222.3 822.2,223.8 820,225.5C817.8,227.2 815.3,229.2 813,231C810.7,232.8 808.5,234.6 806,236.5C803.5,238.4 800.9,240.4 798,242.5C795.1,244.6 792.2,246.7 788.5,249C784.8,251.3 780,254.3 775.8,256.5C771.5,258.7 767.2,260.2 763,262C758.8,263.8 756.5,265.3 750.4,267.3C744.3,269.3 730.5,273.1 726.5,274.2Z" fill="#c5945a" stroke="#c5945a" stroke-width="0.6"/>
<path d="M845.5,150C846.2,152.9 848.2,161.6 849.5,167.2C850.8,172.8 851.8,176.4 853.4,183.8C855,191.2 857.1,203.7 859,211.7C860.9,219.7 863.2,226.4 864.5,232C865.8,237.6 865.7,241 866.5,245C867.3,249 868.4,252.5 869.5,256C870.6,259.5 871.9,263.7 873,266C874.1,268.3 875.5,269.3 876,270L877,305C876.5,304.2 875.1,303.4 874,300C872.9,296.6 871.8,291.6 870.3,284.8C868.8,278 866.7,267.4 865,259.3C863.3,251.2 861.7,243.9 860,236C858.3,228.1 856.6,219.7 855,212C853.4,204.3 851.8,196.7 850.5,190C849.2,183.3 848.2,177.3 847,172C845.8,166.7 844.1,160.3 843.5,158Z" fill="#a28276" stroke="#a28276" stroke-width="0.6"/>
<path d="M851,222C851.7,225 853.6,234.3 855,240C856.4,245.7 857.9,249.3 859.6,256C861.3,262.7 863.2,272.2 865,280C866.8,287.8 868.5,295.7 870.3,303C872,310.3 874.6,320.5 875.5,324L872.8,339C872,337.1 869.1,332.2 867.8,327.7C866.5,323.2 866.3,319.1 865.2,312C864.1,304.9 862.4,293.3 861,285C859.6,276.7 858.1,268.3 857,262C855.9,255.7 855.3,251.2 854.5,247C853.7,242.8 852.9,240.7 852,237C851.1,233.3 849.5,227 849,225Z" fill="#b98b65" stroke="#b98b65" stroke-width="0.6"/>
<path d="M852,226C852.7,229 854.6,238 856,244C857.4,250 858.8,255 860.5,262C862.2,269 864.2,278.3 866,286C867.8,293.7 870.2,304.3 871,308" fill="none" stroke="#8b807e" stroke-width="2.2" stroke-linecap="butt" stroke-linejoin="round" />
<path d="M873,266C873.6,267.2 874.8,272.6 876.5,273C878.2,273.4 879.9,270.4 883,268.5C886.1,266.6 891.2,264.2 895.4,261.8C899.6,259.4 903.1,255.8 908,254.2C912.9,252.6 918.7,252.6 925,252.5C931.3,252.4 938.5,253.3 946,253.6C953.5,253.8 961.3,253.8 970,254C978.7,254.2 993.5,254.7 998.2,254.8L998.2,257.4C993.5,257.4 978.7,257.5 970,257.6C961.3,257.7 953.5,257.9 946,258C938.5,258.1 931.3,258.1 925,258.5C918.7,258.9 912.9,259.1 908,260.5C903.1,261.9 899.4,264.6 895.4,266.9C891.4,269.1 887.1,272.1 884,274C880.9,275.9 878.8,278.7 877,278C875.2,277.3 874.1,271.3 873.5,270Z" fill="#c5945a" stroke="#c5945a" stroke-width="0.6"/>
<path d="M873.5,270C874.1,271.3 875.2,277.3 877,278C878.8,278.7 880.9,275.9 884,274C887.1,272.1 891.4,269.1 895.4,266.9C899.4,264.6 903.1,261.9 908,260.5C912.9,259.1 918.7,258.9 925,258.5C931.3,258.1 938.5,258.1 946,258C953.5,257.9 961.3,257.7 970,257.6C978.7,257.5 993.5,257.4 998.2,257.4L998.2,268.2C993.5,268.2 978.7,268.4 970,268.5C961.3,268.6 954.2,268.9 946,268.8C937.8,268.8 927.1,268 920.8,268.2C914.5,268.4 912.2,268.1 908,270C903.8,271.9 899.6,275.4 895.4,279.5C891.2,283.6 885.6,290.8 882.7,294.5C879.8,298.2 879.2,301.8 878,302C876.8,302.2 876.4,299 875.5,296C874.6,293 873.5,288.3 872.5,284C871.5,279.7 870.3,274.3 869.3,270C868.3,265.7 867,260 866.5,258Z" fill="#97807b" stroke="#97807b" stroke-width="0.6"/>
<path d="M866.5,258C867,260 868.3,265.7 869.3,270C870.3,274.3 871.5,279.7 872.5,284C873.5,288.3 874.6,293 875.5,296C876.4,299 876.8,302.2 878,302C879.2,301.8 879.8,298.2 882.7,294.5C885.6,290.8 891.2,283.6 895.4,279.5C899.6,275.4 903.8,271.9 908,270C912.2,268.1 914.5,268.4 920.8,268.2C927.1,268 937.8,268.8 946,268.8C954.2,268.9 961.3,268.6 970,268.5C978.7,268.4 993.5,268.2 998.2,268.2L998.2,273C993.5,273 978.7,273 970,273C961.3,273 954.2,273.2 946,273.2C937.8,273.2 927.1,273 920.8,273.2C914.5,273.4 912.2,272.6 908,274.5C903.8,276.4 899.4,280.3 895.4,284.5C891.4,288.7 886.8,295.8 884,299.5C881.2,303.2 879.7,307.6 878.5,307C877.3,306.4 877.7,300 877,296C876.3,292 875.4,287.3 874.5,283C873.6,278.7 872.6,274.5 871.5,270C870.4,265.5 868.6,258.3 868,256Z" fill="#808080" stroke="#808080" stroke-width="0.6"/>
<path d="M868,256C868.6,258.3 870.4,265.5 871.5,270C872.6,274.5 873.6,278.7 874.5,283C875.4,287.3 876.3,292 877,296C877.7,300 877.3,306.4 878.5,307C879.7,307.6 881.2,303.2 884,299.5C886.8,295.8 891.4,288.7 895.4,284.5C899.4,280.3 903.8,276.4 908,274.5C912.2,272.6 914.5,273.4 920.8,273.2C927.1,273 937.8,273.2 946,273.2C954.2,273.2 961.3,273 970,273C978.7,273 993.5,273 998.2,273L998.2,276.4C993.5,276.5 978.7,276.8 970,277C961.3,277.2 953.5,277.9 946,277.7C938.5,277.5 931.3,276.3 925,276C918.7,275.7 912.9,273.8 908,275.8C903.1,277.8 899.1,283.5 895.4,288C891.7,292.5 888.6,299.2 886,303C883.4,306.8 881.8,311 880,311C878.2,311 876.2,304.3 875.5,303Z" fill="#c5945a" stroke="#c5945a" stroke-width="0.6"/>
<path d="M868.3,258C868.8,260 870,265.8 871,270C872,274.2 873.1,278.8 874,283C874.9,287.2 875.8,291.6 876.5,295C877.2,298.4 877.9,302.1 878.2,303.5" fill="none" stroke="#808080" stroke-width="3" stroke-linecap="butt" stroke-linejoin="round" />
<path d="M889,300C890.3,298.7 894.2,294.2 897,292C899.8,289.8 903.2,287.8 906,286.5C908.8,285.2 912.7,284.4 914,284" fill="none" stroke="#e8c52a" stroke-width="2.2" stroke-linecap="butt" stroke-linejoin="round" />
<path d="M890,315C890.5,314 892.5,310 893,309" fill="none" stroke="#e8c52a" stroke-width="1.6" stroke-linecap="butt" stroke-linejoin="round" />
<path d="M879.4,326 L881.8,334 L884.4,326 L881.8,329.5Z" fill="#ffff00"/>
<rect x="834.8" y="26" width="5.6" height="377" fill="#c7c7c7" opacity="0.34"/>
<rect x="840.4" y="26" width="4.5" height="377" fill="#969696" opacity="0.33"/>
<g stroke="#000" stroke-width="1" opacity="0.45">
<line x1="843" y1="175.3" x2="855" y2="175.3"/>
<line x1="848.3" y1="196.2" x2="860.3" y2="196.2"/>
<line x1="848.3" y1="211.7" x2="859.7" y2="211.7"/>
<line x1="853.3" y1="241.6" x2="865.4" y2="241.6"/>
<line x1="864.8" y1="277.5" x2="876.3" y2="277.5"/>
<line x1="848.8" y1="175.3" x2="848.8" y2="182"/><line x1="875.5" y1="318" x2="875.5" y2="326"/>
</g>
<polyline points="848.8,182.4 854.2,203.5 859.6,234 865,259.3 870.3,284.8 875.5,318" fill="none" stroke="#000" stroke-width="3.3" stroke-linejoin="round" />
<circle cx="848.8" cy="182.4" r="3.3" fill="#000"/>
<circle cx="854.2" cy="203.5" r="3.3" fill="#000"/>
<circle cx="859.6" cy="234" r="3.3" fill="#000"/>
<circle cx="865" cy="259.3" r="3.3" fill="#000"/>
<circle cx="870.3" cy="284.8" r="3.3" fill="#000"/>
<circle cx="875.5" cy="318" r="3.3" fill="#000"/>
</g>
<line x1="716.8" y1="402.4" x2="726.6" y2="402.4" stroke="#555555" stroke-width="1"/>
<text x="716.2" y="406.7" font-size="12" text-anchor="end" textLength="7.6" lengthAdjust="spacingAndGlyphs" class="k">0</text>
<line x1="721.4" y1="385.7" x2="726.6" y2="385.7" stroke="#8a8a8a" stroke-width="1"/>
<line x1="721.4" y1="369" x2="726.6" y2="369" stroke="#8a8a8a" stroke-width="1"/>
<line x1="721.4" y1="352.2" x2="726.6" y2="352.2" stroke="#8a8a8a" stroke-width="1"/>
<line x1="721.4" y1="335.5" x2="726.6" y2="335.5" stroke="#8a8a8a" stroke-width="1"/>
<line x1="716.8" y1="318.8" x2="726.6" y2="318.8" stroke="#555555" stroke-width="1"/>
<text x="716.2" y="323.1" font-size="12" text-anchor="end" textLength="15.5" lengthAdjust="spacingAndGlyphs" class="k">20</text>
<line x1="721.4" y1="302.1" x2="726.6" y2="302.1" stroke="#8a8a8a" stroke-width="1"/>
<line x1="721.4" y1="285.4" x2="726.6" y2="285.4" stroke="#8a8a8a" stroke-width="1"/>
<line x1="721.4" y1="268.6" x2="726.6" y2="268.6" stroke="#8a8a8a" stroke-width="1"/>
<line x1="721.4" y1="251.9" x2="726.6" y2="251.9" stroke="#8a8a8a" stroke-width="1"/>
<line x1="716.8" y1="235.2" x2="726.6" y2="235.2" stroke="#555555" stroke-width="1"/>
<text x="716.2" y="239.5" font-size="12" text-anchor="end" textLength="15.5" lengthAdjust="spacingAndGlyphs" class="k">40</text>
<line x1="721.4" y1="218.5" x2="726.6" y2="218.5" stroke="#8a8a8a" stroke-width="1"/>
<line x1="721.4" y1="201.8" x2="726.6" y2="201.8" stroke="#8a8a8a" stroke-width="1"/>
<line x1="721.4" y1="185" x2="726.6" y2="185" stroke="#8a8a8a" stroke-width="1"/>
<line x1="721.4" y1="168.3" x2="726.6" y2="168.3" stroke="#8a8a8a" stroke-width="1"/>
<line x1="716.8" y1="151.6" x2="726.6" y2="151.6" stroke="#555555" stroke-width="1"/>
<text x="716.2" y="155.9" font-size="12" text-anchor="end" textLength="15.5" lengthAdjust="spacingAndGlyphs" class="k">60</text>
<line x1="721.4" y1="134.9" x2="726.6" y2="134.9" stroke="#8a8a8a" stroke-width="1"/>
<line x1="721.4" y1="118.2" x2="726.6" y2="118.2" stroke="#8a8a8a" stroke-width="1"/>
<line x1="721.4" y1="101.4" x2="726.6" y2="101.4" stroke="#8a8a8a" stroke-width="1"/>
<line x1="721.4" y1="84.7" x2="726.6" y2="84.7" stroke="#8a8a8a" stroke-width="1"/>
<line x1="716.8" y1="68" x2="726.6" y2="68" stroke="#555555" stroke-width="1"/>
<text x="716.2" y="72.3" font-size="12" text-anchor="end" textLength="15.5" lengthAdjust="spacingAndGlyphs" class="k">80</text>
<line x1="721.4" y1="51.3" x2="726.6" y2="51.3" stroke="#8a8a8a" stroke-width="1"/>
<line x1="721.4" y1="34.6" x2="726.6" y2="34.6" stroke="#8a8a8a" stroke-width="1"/>
<line x1="726.8" y1="403" x2="726.8" y2="407.8" stroke="#8a8a8a" stroke-width="1"/>
<line x1="729.3" y1="403" x2="729.3" y2="412.8" stroke="#555555" stroke-width="1"/>
<text x="729.3" y="422.3" font-size="12" text-anchor="middle" textLength="19.3" lengthAdjust="spacingAndGlyphs" class="k">0.1</text>
<line x1="748.9" y1="403" x2="748.9" y2="407.8" stroke="#8a8a8a" stroke-width="1"/>
<line x1="762.8" y1="403" x2="762.8" y2="412.8" stroke="#555555" stroke-width="1"/>
<text x="762.8" y="422.3" font-size="12" text-anchor="middle" textLength="19.3" lengthAdjust="spacingAndGlyphs" class="k">0.2</text>
<line x1="773.5" y1="403" x2="773.5" y2="407.8" stroke="#8a8a8a" stroke-width="1"/>
<line x1="782.3" y1="403" x2="782.3" y2="407.8" stroke="#8a8a8a" stroke-width="1"/>
<line x1="789.8" y1="403" x2="789.8" y2="407.8" stroke="#8a8a8a" stroke-width="1"/>
<line x1="796.2" y1="403" x2="796.2" y2="412.8" stroke="#555555" stroke-width="1"/>
<text x="796.2" y="422.3" font-size="12" text-anchor="middle" textLength="19.3" lengthAdjust="spacingAndGlyphs" class="k">0.4</text>
<line x1="801.9" y1="403" x2="801.9" y2="407.8" stroke="#8a8a8a" stroke-width="1"/>
<line x1="807" y1="403" x2="807" y2="407.8" stroke="#8a8a8a" stroke-width="1"/>
<line x1="811.6" y1="403" x2="811.6" y2="407.8" stroke="#8a8a8a" stroke-width="1"/>
<line x1="815.8" y1="403" x2="815.8" y2="412.8" stroke="#555555" stroke-width="1"/>
<text x="815.8" y="422.3" font-size="12" text-anchor="middle" textLength="19.3" lengthAdjust="spacingAndGlyphs" class="k">0.6</text>
<line x1="819.7" y1="403" x2="819.7" y2="407.8" stroke="#8a8a8a" stroke-width="1"/>
<line x1="823.2" y1="403" x2="823.2" y2="407.8" stroke="#8a8a8a" stroke-width="1"/>
<line x1="826.6" y1="403" x2="826.6" y2="407.8" stroke="#8a8a8a" stroke-width="1"/>
<line x1="829.7" y1="403" x2="829.7" y2="412.8" stroke="#555555" stroke-width="1"/>
<text x="829.7" y="422.3" font-size="12" text-anchor="middle" textLength="19.3" lengthAdjust="spacingAndGlyphs" class="k">0.8</text>
<line x1="832.6" y1="403" x2="832.6" y2="407.8" stroke="#8a8a8a" stroke-width="1"/>
<line x1="835.4" y1="403" x2="835.4" y2="407.8" stroke="#8a8a8a" stroke-width="1"/>
<line x1="838" y1="403" x2="838" y2="407.8" stroke="#8a8a8a" stroke-width="1"/>
<line x1="840.4" y1="403" x2="840.4" y2="412.8" stroke="#555555" stroke-width="1"/>
<text x="840.4" y="422.3" font-size="12" text-anchor="middle" textLength="7.6" lengthAdjust="spacingAndGlyphs" class="k">1</text>
<line x1="860" y1="403" x2="860" y2="407.8" stroke="#8a8a8a" stroke-width="1"/>
<line x1="873.9" y1="403" x2="873.9" y2="412.8" stroke="#555555" stroke-width="1"/>
<text x="873.9" y="422.3" font-size="12" text-anchor="middle" textLength="7.6" lengthAdjust="spacingAndGlyphs" class="k">2</text>
<line x1="884.7" y1="403" x2="884.7" y2="407.8" stroke="#8a8a8a" stroke-width="1"/>
<line x1="893.5" y1="403" x2="893.5" y2="407.8" stroke="#8a8a8a" stroke-width="1"/>
<line x1="900.9" y1="403" x2="900.9" y2="407.8" stroke="#8a8a8a" stroke-width="1"/>
<line x1="907.4" y1="403" x2="907.4" y2="412.8" stroke="#555555" stroke-width="1"/>
<text x="907.4" y="422.3" font-size="12" text-anchor="middle" textLength="7.6" lengthAdjust="spacingAndGlyphs" class="k">4</text>
<line x1="913.1" y1="403" x2="913.1" y2="407.8" stroke="#8a8a8a" stroke-width="1"/>
<line x1="918.1" y1="403" x2="918.1" y2="407.8" stroke="#8a8a8a" stroke-width="1"/>
<line x1="922.7" y1="403" x2="922.7" y2="407.8" stroke="#8a8a8a" stroke-width="1"/>
<line x1="926.9" y1="403" x2="926.9" y2="412.8" stroke="#555555" stroke-width="1"/>
<text x="926.9" y="422.3" font-size="12" text-anchor="middle" textLength="7.6" lengthAdjust="spacingAndGlyphs" class="k">6</text>
<line x1="930.8" y1="403" x2="930.8" y2="407.8" stroke="#8a8a8a" stroke-width="1"/>
<line x1="934.4" y1="403" x2="934.4" y2="407.8" stroke="#8a8a8a" stroke-width="1"/>
<line x1="937.7" y1="403" x2="937.7" y2="407.8" stroke="#8a8a8a" stroke-width="1"/>
<line x1="940.8" y1="403" x2="940.8" y2="412.8" stroke="#555555" stroke-width="1"/>
<text x="940.8" y="422.3" font-size="12" text-anchor="middle" textLength="7.6" lengthAdjust="spacingAndGlyphs" class="k">8</text>
<line x1="943.8" y1="403" x2="943.8" y2="407.8" stroke="#8a8a8a" stroke-width="1"/>
<line x1="946.5" y1="403" x2="946.5" y2="407.8" stroke="#8a8a8a" stroke-width="1"/>
<line x1="949.1" y1="403" x2="949.1" y2="407.8" stroke="#8a8a8a" stroke-width="1"/>
<line x1="951.6" y1="403" x2="951.6" y2="412.8" stroke="#555555" stroke-width="1"/>
<text x="951.6" y="422.3" font-size="12" text-anchor="middle" textLength="15.5" lengthAdjust="spacingAndGlyphs" class="k">10</text>
<line x1="971.2" y1="403" x2="971.2" y2="407.8" stroke="#8a8a8a" stroke-width="1"/>
<line x1="985.1" y1="403" x2="985.1" y2="412.8" stroke="#555555" stroke-width="1"/>
<text x="985.1" y="422.3" font-size="12" text-anchor="middle" textLength="15.5" lengthAdjust="spacingAndGlyphs" class="k">20</text>
<line x1="995.8" y1="403" x2="995.8" y2="407.8" stroke="#8a8a8a" stroke-width="1"/>
<text x="862.8" y="437.5" font-size="12.2" text-anchor="middle" textLength="89" lengthAdjust="spacingAndGlyphs" class="t">Frequency (Hz)</text>
<g transform="translate(697.7,213.8) rotate(-90)"><text x="0" y="0" font-size="12.2" text-anchor="middle" textLength="128" lengthAdjust="spacingAndGlyphs" class="t">Ellipticity angle (deg)</text></g>
<rect x="143.6" y="463.8" width="21.2" height="39.1" fill="#808080"/>
<rect x="164.2" y="463.8" width="41.5" height="39.1" fill="#8b807e"/>
<rect x="205.1" y="463.8" width="41.5" height="39.1" fill="#97807b"/>
<rect x="246" y="463.8" width="41.5" height="39.1" fill="#a28276"/>
<rect x="286.9" y="463.8" width="41.5" height="39.1" fill="#ae866f"/>
<rect x="327.8" y="463.8" width="41.5" height="39.1" fill="#b98b65"/>
<rect x="368.7" y="463.8" width="41.5" height="39.1" fill="#c5945a"/>
<rect x="409.6" y="463.8" width="41.5" height="39.1" fill="#d1a04c"/>
<rect x="450.5" y="463.8" width="41.5" height="39.1" fill="#dcb13c"/>
<rect x="491.4" y="463.8" width="41.5" height="39.1" fill="#e8c52a"/>
<rect x="532.3" y="463.8" width="41.5" height="39.1" fill="#ffff00"/>
<rect x="573.2" y="463.8" width="41.5" height="39.1" fill="#f6e300"/>
<rect x="614.1" y="463.8" width="41.5" height="39.1" fill="#ecc600"/>
<rect x="655" y="463.8" width="41.5" height="39.1" fill="#e3aa00"/>
<rect x="695.9" y="463.8" width="41.5" height="39.1" fill="#d98e00"/>
<rect x="736.8" y="463.8" width="41.5" height="39.1" fill="#d07100"/>
<rect x="777.7" y="463.8" width="41.5" height="39.1" fill="#c65500"/>
<rect x="818.6" y="463.8" width="41.5" height="39.1" fill="#bd3900"/>
<rect x="859.5" y="463.8" width="41.5" height="39.1" fill="#b31c00"/>
<rect x="900.4" y="463.8" width="20.7" height="39.1" fill="#aa0000"/>
<line x1="145.3" y1="503.2" x2="145.3" y2="508.5" stroke="#8a8a8a" stroke-width="1"/>
<line x1="156.1" y1="503.2" x2="156.1" y2="508.5" stroke="#8a8a8a" stroke-width="1"/>
<line x1="166.8" y1="503.2" x2="166.8" y2="508.5" stroke="#8a8a8a" stroke-width="1"/>
<line x1="177.4" y1="503.2" x2="177.4" y2="513.5" stroke="#555555" stroke-width="1"/>
<text x="177.4" y="523.5" font-size="12" text-anchor="middle" textLength="27.2" lengthAdjust="spacingAndGlyphs" class="k">0.80</text>
<line x1="187.8" y1="503.2" x2="187.8" y2="508.5" stroke="#8a8a8a" stroke-width="1"/>
<line x1="198.1" y1="503.2" x2="198.1" y2="508.5" stroke="#8a8a8a" stroke-width="1"/>
<line x1="208.2" y1="503.2" x2="208.2" y2="508.5" stroke="#8a8a8a" stroke-width="1"/>
<line x1="218.3" y1="503.2" x2="218.3" y2="508.5" stroke="#8a8a8a" stroke-width="1"/>
<line x1="228.2" y1="503.2" x2="228.2" y2="513.5" stroke="#555555" stroke-width="1"/>
<text x="228.2" y="523.5" font-size="12" text-anchor="middle" textLength="27.2" lengthAdjust="spacingAndGlyphs" class="k">0.85</text>
<line x1="238" y1="503.2" x2="238" y2="508.5" stroke="#8a8a8a" stroke-width="1"/>
<line x1="247.7" y1="503.2" x2="247.7" y2="508.5" stroke="#8a8a8a" stroke-width="1"/>
<line x1="257.3" y1="503.2" x2="257.3" y2="508.5" stroke="#8a8a8a" stroke-width="1"/>
<line x1="266.8" y1="503.2" x2="266.8" y2="508.5" stroke="#8a8a8a" stroke-width="1"/>
<line x1="276.1" y1="503.2" x2="276.1" y2="513.5" stroke="#555555" stroke-width="1"/>
<text x="276.1" y="523.5" font-size="12" text-anchor="middle" textLength="27.2" lengthAdjust="spacingAndGlyphs" class="k">0.90</text>
<line x1="285.4" y1="503.2" x2="285.4" y2="508.5" stroke="#8a8a8a" stroke-width="1"/>
<line x1="294.6" y1="503.2" x2="294.6" y2="508.5" stroke="#8a8a8a" stroke-width="1"/>
<line x1="303.6" y1="503.2" x2="303.6" y2="508.5" stroke="#8a8a8a" stroke-width="1"/>
<line x1="312.6" y1="503.2" x2="312.6" y2="508.5" stroke="#8a8a8a" stroke-width="1"/>
<line x1="321.5" y1="503.2" x2="321.5" y2="513.5" stroke="#555555" stroke-width="1"/>
<text x="321.5" y="523.5" font-size="12" text-anchor="middle" textLength="27.2" lengthAdjust="spacingAndGlyphs" class="k">0.95</text>
<line x1="330.3" y1="503.2" x2="330.3" y2="508.5" stroke="#8a8a8a" stroke-width="1"/>
<line x1="339" y1="503.2" x2="339" y2="508.5" stroke="#8a8a8a" stroke-width="1"/>
<line x1="347.6" y1="503.2" x2="347.6" y2="508.5" stroke="#8a8a8a" stroke-width="1"/>
<line x1="356.1" y1="503.2" x2="356.1" y2="508.5" stroke="#8a8a8a" stroke-width="1"/>
<line x1="364.5" y1="503.2" x2="364.5" y2="513.5" stroke="#555555" stroke-width="1"/>
<text x="364.5" y="523.5" font-size="12" text-anchor="middle" textLength="19.3" lengthAdjust="spacingAndGlyphs" class="k">1.0</text>
<line x1="444.4" y1="503.2" x2="444.4" y2="508.5" stroke="#8a8a8a" stroke-width="1"/>
<line x1="517.4" y1="503.2" x2="517.4" y2="508.5" stroke="#8a8a8a" stroke-width="1"/>
<line x1="584.5" y1="503.2" x2="584.5" y2="508.5" stroke="#8a8a8a" stroke-width="1"/>
<line x1="646.7" y1="503.2" x2="646.7" y2="508.5" stroke="#8a8a8a" stroke-width="1"/>
<line x1="704.5" y1="503.2" x2="704.5" y2="513.5" stroke="#555555" stroke-width="1"/>
<text x="704.5" y="523.5" font-size="12" text-anchor="middle" textLength="19.3" lengthAdjust="spacingAndGlyphs" class="k">1.5</text>
<line x1="758.7" y1="503.2" x2="758.7" y2="508.5" stroke="#8a8a8a" stroke-width="1"/>
<line x1="809.5" y1="503.2" x2="809.5" y2="508.5" stroke="#8a8a8a" stroke-width="1"/>
<line x1="857.4" y1="503.2" x2="857.4" y2="508.5" stroke="#8a8a8a" stroke-width="1"/>
<line x1="902.8" y1="503.2" x2="902.8" y2="508.5" stroke="#8a8a8a" stroke-width="1"/>
<text x="532.3" y="539" font-size="12.2" text-anchor="middle" textLength="68.2" lengthAdjust="spacingAndGlyphs" class="t">Misfit value</text>
</svg></body></html>
